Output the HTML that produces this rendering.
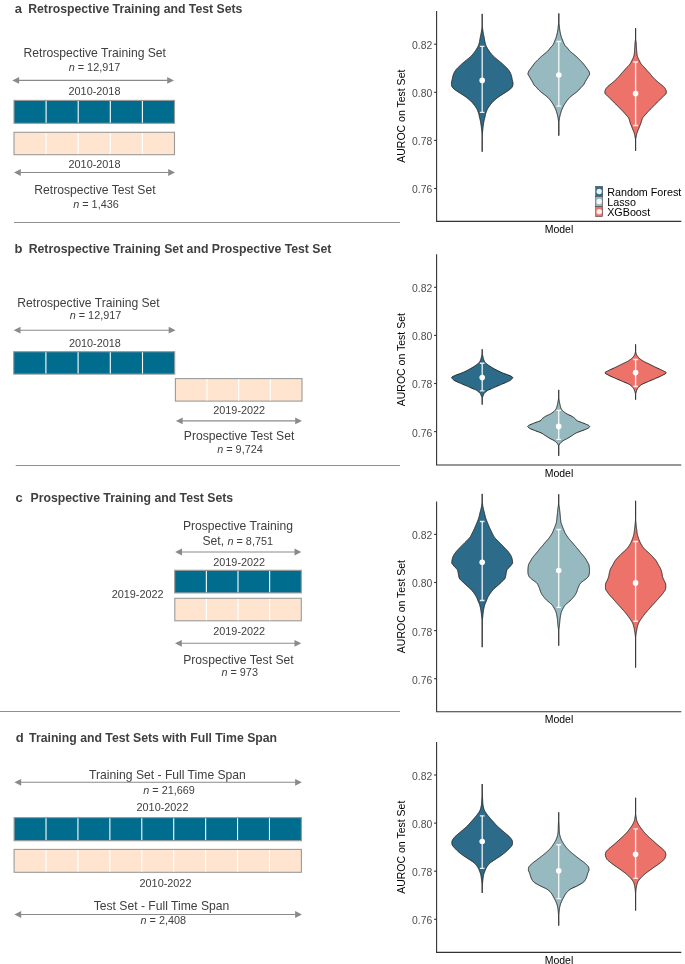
<!DOCTYPE html>
<html><head><meta charset="utf-8"><style>
html,body{margin:0;padding:0;background:#fff;}
body{width:685px;height:964px;overflow:hidden;}
svg{display:block;font-family:"Liberation Sans", sans-serif;will-change:transform;}
</style></head><body>
<svg width="685" height="964" viewBox="0 0 685 964">
<text x="14.70" y="12.60" font-size="13" text-anchor="start" font-weight="bold" fill="#404040" >a</text>
<text x="28.20" y="12.60" font-size="12.25" text-anchor="start" font-weight="bold" fill="#404040" >Retrospective Training and Test Sets</text>
<text x="94.80" y="56.80" font-size="12.15" text-anchor="middle" font-weight="normal" fill="#404040" >Retrospective Training Set</text>
<text x="94.50" y="71.00" font-size="10.85" text-anchor="middle" font-weight="normal" fill="#404040" ><tspan font-style="italic">n</tspan> = 12,917</text>
<line x1="18.60" y1="80.40" x2="167.70" y2="80.40" stroke="#8a8a8a" stroke-width="1.1"/>
<path d="M12.30,80.40 L19.10,77.00 L19.10,83.80 Z" fill="#8a8a8a"/>
<path d="M174.00,80.40 L167.20,77.00 L167.20,83.80 Z" fill="#8a8a8a"/>
<text x="94.50" y="94.90" font-size="10.85" text-anchor="middle" font-weight="normal" fill="#404040" >2010-2018</text>
<rect x="14.00" y="100.40" width="160.50" height="22.90" fill="#006d8f" stroke="#9a9a9a" stroke-width="1.1"/>
<line x1="46.10" y1="101.00" x2="46.10" y2="122.70" stroke="#ffffff" stroke-width="1.1"/>
<line x1="78.20" y1="101.00" x2="78.20" y2="122.70" stroke="#ffffff" stroke-width="1.1"/>
<line x1="110.30" y1="101.00" x2="110.30" y2="122.70" stroke="#ffffff" stroke-width="1.1"/>
<line x1="142.40" y1="101.00" x2="142.40" y2="122.70" stroke="#ffffff" stroke-width="1.1"/>
<rect x="14.00" y="132.30" width="160.50" height="22.40" fill="#ffe5cf" stroke="#9a9a9a" stroke-width="1.1"/>
<line x1="46.10" y1="132.90" x2="46.10" y2="154.10" stroke="#ffffff" stroke-width="1.1"/>
<line x1="78.20" y1="132.90" x2="78.20" y2="154.10" stroke="#ffffff" stroke-width="1.1"/>
<line x1="110.30" y1="132.90" x2="110.30" y2="154.10" stroke="#ffffff" stroke-width="1.1"/>
<line x1="142.40" y1="132.90" x2="142.40" y2="154.10" stroke="#ffffff" stroke-width="1.1"/>
<text x="94.50" y="168.10" font-size="10.85" text-anchor="middle" font-weight="normal" fill="#404040" >2010-2018</text>
<line x1="20.30" y1="172.50" x2="168.70" y2="172.50" stroke="#8a8a8a" stroke-width="1.1"/>
<path d="M14.00,172.50 L20.80,169.10 L20.80,175.90 Z" fill="#8a8a8a"/>
<path d="M175.00,172.50 L168.20,169.10 L168.20,175.90 Z" fill="#8a8a8a"/>
<text x="94.90" y="194.40" font-size="12.15" text-anchor="middle" font-weight="normal" fill="#404040" >Retrospective Test Set</text>
<text x="96.00" y="207.50" font-size="10.85" text-anchor="middle" font-weight="normal" fill="#404040" ><tspan font-style="italic">n</tspan> = 1,436</text>
<line x1="14.00" y1="222.50" x2="400.00" y2="222.50" stroke="#909090" stroke-width="1"/>
<text x="14.60" y="253.40" font-size="13" text-anchor="start" font-weight="bold" fill="#404040" >b</text>
<text x="28.70" y="253.40" font-size="12.25" text-anchor="start" font-weight="bold" fill="#404040" >Retrospective Training Set and Prospective Test Set</text>
<text x="88.55" y="307.10" font-size="12.15" text-anchor="middle" font-weight="normal" fill="#404040" >Retrospective Training Set</text>
<text x="95.50" y="318.90" font-size="10.85" text-anchor="middle" font-weight="normal" fill="#404040" ><tspan font-style="italic">n</tspan> = 12,917</text>
<line x1="20.00" y1="330.20" x2="169.20" y2="330.20" stroke="#8a8a8a" stroke-width="1.1"/>
<path d="M13.70,330.20 L20.50,326.80 L20.50,333.60 Z" fill="#8a8a8a"/>
<path d="M175.50,330.20 L168.70,326.80 L168.70,333.60 Z" fill="#8a8a8a"/>
<text x="94.85" y="347.00" font-size="10.85" text-anchor="middle" font-weight="normal" fill="#404040" >2010-2018</text>
<rect x="13.70" y="351.70" width="161.00" height="22.40" fill="#006d8f" stroke="#9a9a9a" stroke-width="1.1"/>
<line x1="45.90" y1="352.30" x2="45.90" y2="373.50" stroke="#ffffff" stroke-width="1.1"/>
<line x1="78.10" y1="352.30" x2="78.10" y2="373.50" stroke="#ffffff" stroke-width="1.1"/>
<line x1="110.30" y1="352.30" x2="110.30" y2="373.50" stroke="#ffffff" stroke-width="1.1"/>
<line x1="142.50" y1="352.30" x2="142.50" y2="373.50" stroke="#ffffff" stroke-width="1.1"/>
<rect x="175.40" y="378.60" width="126.60" height="22.50" fill="#ffe5cf" stroke="#9a9a9a" stroke-width="1.1"/>
<line x1="207.05" y1="379.20" x2="207.05" y2="400.50" stroke="#ffffff" stroke-width="1.1"/>
<line x1="238.70" y1="379.20" x2="238.70" y2="400.50" stroke="#ffffff" stroke-width="1.1"/>
<line x1="270.35" y1="379.20" x2="270.35" y2="400.50" stroke="#ffffff" stroke-width="1.1"/>
<text x="239.20" y="413.90" font-size="10.85" text-anchor="middle" font-weight="normal" fill="#404040" >2019-2022</text>
<line x1="182.20" y1="420.90" x2="295.70" y2="420.90" stroke="#8a8a8a" stroke-width="1.1"/>
<path d="M175.90,420.90 L182.70,417.50 L182.70,424.30 Z" fill="#8a8a8a"/>
<path d="M302.00,420.90 L295.20,417.50 L295.20,424.30 Z" fill="#8a8a8a"/>
<text x="239.10" y="439.60" font-size="12.15" text-anchor="middle" font-weight="normal" fill="#404040" >Prospective Test Set</text>
<text x="240.00" y="452.90" font-size="10.85" text-anchor="middle" font-weight="normal" fill="#404040" ><tspan font-style="italic">n</tspan> = 9,724</text>
<line x1="15.70" y1="465.50" x2="400.00" y2="465.50" stroke="#909090" stroke-width="1"/>
<text x="15.40" y="502.20" font-size="13" text-anchor="start" font-weight="bold" fill="#404040" >c</text>
<text x="30.50" y="502.20" font-size="12.25" text-anchor="start" font-weight="bold" fill="#404040" >Prospective Training and Test Sets</text>
<text x="237.90" y="530.30" font-size="12.15" text-anchor="middle" font-weight="normal" fill="#404040" >Prospective Training</text>
<text x="237.75" y="545.00" font-size="12.15" text-anchor="middle" font-weight="normal" fill="#404040" >Set, <tspan font-style="italic" font-size="10.85">n</tspan><tspan font-size="10.85"> = 8,751</tspan></text>
<line x1="181.50" y1="552.00" x2="295.00" y2="552.00" stroke="#8a8a8a" stroke-width="1.1"/>
<path d="M175.20,552.00 L182.00,548.60 L182.00,555.40 Z" fill="#8a8a8a"/>
<path d="M301.30,552.00 L294.50,548.60 L294.50,555.40 Z" fill="#8a8a8a"/>
<text x="239.20" y="566.00" font-size="10.85" text-anchor="middle" font-weight="normal" fill="#404040" >2019-2022</text>
<rect x="174.70" y="570.30" width="126.60" height="22.60" fill="#006d8f" stroke="#9a9a9a" stroke-width="1.1"/>
<line x1="206.35" y1="570.90" x2="206.35" y2="592.30" stroke="#ffffff" stroke-width="1.1"/>
<line x1="238.00" y1="570.90" x2="238.00" y2="592.30" stroke="#ffffff" stroke-width="1.1"/>
<line x1="269.65" y1="570.90" x2="269.65" y2="592.30" stroke="#ffffff" stroke-width="1.1"/>
<text x="137.60" y="598.30" font-size="10.85" text-anchor="middle" font-weight="normal" fill="#404040" >2019-2022</text>
<rect x="174.80" y="598.30" width="126.50" height="22.50" fill="#ffe5cf" stroke="#9a9a9a" stroke-width="1.1"/>
<line x1="206.43" y1="598.90" x2="206.43" y2="620.20" stroke="#ffffff" stroke-width="1.1"/>
<line x1="238.05" y1="598.90" x2="238.05" y2="620.20" stroke="#ffffff" stroke-width="1.1"/>
<line x1="269.68" y1="598.90" x2="269.68" y2="620.20" stroke="#ffffff" stroke-width="1.1"/>
<text x="239.20" y="634.60" font-size="10.85" text-anchor="middle" font-weight="normal" fill="#404040" >2019-2022</text>
<line x1="181.30" y1="643.30" x2="295.00" y2="643.30" stroke="#8a8a8a" stroke-width="1.1"/>
<path d="M175.00,643.30 L181.80,639.90 L181.80,646.70 Z" fill="#8a8a8a"/>
<path d="M301.30,643.30 L294.50,639.90 L294.50,646.70 Z" fill="#8a8a8a"/>
<text x="238.40" y="663.50" font-size="12.15" text-anchor="middle" font-weight="normal" fill="#404040" >Prospective Test Set</text>
<text x="239.70" y="676.30" font-size="10.85" text-anchor="middle" font-weight="normal" fill="#404040" ><tspan font-style="italic">n</tspan> = 973</text>
<line x1="0.00" y1="711.50" x2="400.00" y2="711.50" stroke="#909090" stroke-width="1"/>
<text x="15.70" y="741.90" font-size="13" text-anchor="start" font-weight="bold" fill="#404040" >d</text>
<text x="29.10" y="741.90" font-size="12.25" text-anchor="start" font-weight="bold" fill="#404040" >Training and Test Sets with Full Time Span</text>
<text x="167.50" y="779.40" font-size="12.15" text-anchor="middle" font-weight="normal" fill="#404040" >Training Set - Full Time Span</text>
<line x1="20.70" y1="782.30" x2="295.60" y2="782.30" stroke="#8a8a8a" stroke-width="1.1"/>
<path d="M14.40,782.30 L21.20,778.90 L21.20,785.70 Z" fill="#8a8a8a"/>
<path d="M301.90,782.30 L295.10,778.90 L295.10,785.70 Z" fill="#8a8a8a"/>
<text x="169.10" y="794.00" font-size="10.85" text-anchor="middle" font-weight="normal" fill="#404040" ><tspan font-style="italic">n</tspan> = 21,669</text>
<text x="162.50" y="810.90" font-size="10.85" text-anchor="middle" font-weight="normal" fill="#404040" >2010-2022</text>
<rect x="14.10" y="817.60" width="287.30" height="23.10" fill="#006d8f" stroke="#9a9a9a" stroke-width="1.1"/>
<line x1="46.02" y1="818.20" x2="46.02" y2="840.10" stroke="#ffffff" stroke-width="1.1"/>
<line x1="77.94" y1="818.20" x2="77.94" y2="840.10" stroke="#ffffff" stroke-width="1.1"/>
<line x1="109.87" y1="818.20" x2="109.87" y2="840.10" stroke="#ffffff" stroke-width="1.1"/>
<line x1="141.79" y1="818.20" x2="141.79" y2="840.10" stroke="#ffffff" stroke-width="1.1"/>
<line x1="173.71" y1="818.20" x2="173.71" y2="840.10" stroke="#ffffff" stroke-width="1.1"/>
<line x1="205.63" y1="818.20" x2="205.63" y2="840.10" stroke="#ffffff" stroke-width="1.1"/>
<line x1="237.56" y1="818.20" x2="237.56" y2="840.10" stroke="#ffffff" stroke-width="1.1"/>
<line x1="269.48" y1="818.20" x2="269.48" y2="840.10" stroke="#ffffff" stroke-width="1.1"/>
<rect x="14.10" y="849.40" width="287.30" height="22.90" fill="#ffe5cf" stroke="#9a9a9a" stroke-width="1.1"/>
<line x1="46.02" y1="850.00" x2="46.02" y2="871.70" stroke="#ffffff" stroke-width="1.1"/>
<line x1="77.94" y1="850.00" x2="77.94" y2="871.70" stroke="#ffffff" stroke-width="1.1"/>
<line x1="109.87" y1="850.00" x2="109.87" y2="871.70" stroke="#ffffff" stroke-width="1.1"/>
<line x1="141.79" y1="850.00" x2="141.79" y2="871.70" stroke="#ffffff" stroke-width="1.1"/>
<line x1="173.71" y1="850.00" x2="173.71" y2="871.70" stroke="#ffffff" stroke-width="1.1"/>
<line x1="205.63" y1="850.00" x2="205.63" y2="871.70" stroke="#ffffff" stroke-width="1.1"/>
<line x1="237.56" y1="850.00" x2="237.56" y2="871.70" stroke="#ffffff" stroke-width="1.1"/>
<line x1="269.48" y1="850.00" x2="269.48" y2="871.70" stroke="#ffffff" stroke-width="1.1"/>
<text x="165.50" y="887.20" font-size="10.85" text-anchor="middle" font-weight="normal" fill="#404040" >2010-2022</text>
<text x="161.50" y="910.00" font-size="12.15" text-anchor="middle" font-weight="normal" fill="#404040" >Test Set - Full Time Span</text>
<line x1="20.70" y1="914.50" x2="295.60" y2="914.50" stroke="#8a8a8a" stroke-width="1.1"/>
<path d="M14.40,914.50 L21.20,911.10 L21.20,917.90 Z" fill="#8a8a8a"/>
<path d="M301.90,914.50 L295.10,911.10 L295.10,917.90 Z" fill="#8a8a8a"/>
<text x="163.30" y="924.40" font-size="10.85" text-anchor="middle" font-weight="normal" fill="#404040" ><tspan font-style="italic">n</tspan> = 2,408</text>
<path d="M482.20,13.90 L482.20,14.40 L482.20,14.90 L482.20,15.40 L482.20,15.90 L482.20,16.40 L482.20,16.90 L482.20,17.40 L482.21,17.90 L482.21,18.40 L482.21,18.90 L482.21,19.40 L482.21,19.90 L482.21,20.40 L482.22,20.90 L482.22,21.40 L482.22,21.90 L482.23,22.40 L482.23,22.90 L482.23,23.40 L482.24,23.90 L482.24,24.40 L482.24,24.90 L482.25,25.40 L482.28,25.90 L482.32,26.40 L482.37,26.90 L482.43,27.40 L482.50,27.90 L482.57,28.40 L482.65,28.90 L482.72,29.40 L482.79,29.90 L482.85,30.40 L482.92,30.90 L482.99,31.40 L483.07,31.90 L483.15,32.40 L483.23,32.90 L483.32,33.40 L483.41,33.90 L483.52,34.40 L483.63,34.90 L483.73,35.40 L483.84,35.90 L483.94,36.40 L484.03,36.90 L484.13,37.40 L484.22,37.90 L484.31,38.40 L484.40,38.90 L484.49,39.40 L484.58,39.90 L484.67,40.40 L484.76,40.90 L484.85,41.40 L484.95,41.90 L485.05,42.40 L485.17,42.90 L485.30,43.40 L485.44,43.90 L485.59,44.40 L485.76,44.90 L485.94,45.40 L486.15,45.90 L486.39,46.40 L486.65,46.90 L486.92,47.40 L487.20,47.90 L487.48,48.40 L487.78,48.90 L488.09,49.40 L488.41,49.90 L488.73,50.40 L489.07,50.90 L489.42,51.40 L489.79,51.90 L490.16,52.40 L490.54,52.90 L490.94,53.40 L491.34,53.90 L491.75,54.40 L492.17,54.90 L492.62,55.40 L493.10,55.90 L493.61,56.40 L494.16,56.90 L494.73,57.40 L495.31,57.90 L495.90,58.40 L496.50,58.90 L497.11,59.40 L497.74,59.90 L498.36,60.40 L498.98,60.90 L499.59,61.40 L500.19,61.90 L500.80,62.40 L501.39,62.90 L501.97,63.40 L502.54,63.90 L503.09,64.40 L503.63,64.90 L504.16,65.40 L504.68,65.90 L505.20,66.40 L505.73,66.90 L506.25,67.40 L506.77,67.90 L507.25,68.40 L507.70,68.90 L508.11,69.40 L508.51,69.90 L508.88,70.40 L509.23,70.90 L509.54,71.40 L509.83,71.90 L510.09,72.40 L510.34,72.90 L510.57,73.40 L510.78,73.90 L510.97,74.40 L511.15,74.90 L511.31,75.40 L511.46,75.90 L511.60,76.40 L511.72,76.90 L511.83,77.40 L511.92,77.90 L512.01,78.40 L512.10,78.90 L512.20,79.40 L512.32,79.90 L512.46,80.40 L512.58,80.90 L512.69,81.40 L512.80,81.90 L512.91,82.40 L512.98,82.90 L513.00,83.40 L512.98,83.90 L512.94,84.40 L512.87,84.90 L512.79,85.40 L512.70,85.90 L512.53,86.40 L512.25,86.90 L511.87,87.40 L511.44,87.90 L510.99,88.40 L510.50,88.90 L509.90,89.40 L509.23,89.90 L508.51,90.40 L507.79,90.90 L507.07,91.40 L506.31,91.90 L505.52,92.40 L504.72,92.90 L503.93,93.40 L503.14,93.90 L502.36,94.40 L501.57,94.90 L500.79,95.40 L500.03,95.90 L499.30,96.40 L498.60,96.90 L497.93,97.40 L497.27,97.90 L496.64,98.40 L496.02,98.90 L495.42,99.40 L494.83,99.90 L494.26,100.40 L493.71,100.90 L493.20,101.40 L492.72,101.90 L492.26,102.40 L491.83,102.90 L491.42,103.40 L491.02,103.90 L490.62,104.40 L490.24,104.90 L489.86,105.40 L489.49,105.90 L489.14,106.40 L488.80,106.90 L488.46,107.40 L488.13,107.90 L487.81,108.40 L487.51,108.90 L487.25,109.40 L487.02,109.90 L486.82,110.40 L486.64,110.90 L486.47,111.40 L486.30,111.90 L486.13,112.40 L485.96,112.90 L485.80,113.40 L485.64,113.90 L485.50,114.40 L485.38,114.90 L485.27,115.40 L485.18,115.90 L485.09,116.40 L485.00,116.90 L484.90,117.40 L484.78,117.90 L484.63,118.40 L484.49,118.90 L484.35,119.40 L484.22,119.90 L484.12,120.40 L484.02,120.90 L483.93,121.40 L483.85,121.90 L483.77,122.40 L483.68,122.90 L483.60,123.40 L483.52,123.90 L483.44,124.40 L483.36,124.90 L483.28,125.40 L483.21,125.90 L483.14,126.40 L483.08,126.90 L483.02,127.40 L482.96,127.90 L482.91,128.40 L482.86,128.90 L482.81,129.40 L482.77,129.90 L482.72,130.40 L482.67,130.90 L482.62,131.40 L482.57,131.90 L482.51,132.40 L482.46,132.90 L482.40,133.40 L482.36,133.90 L482.32,134.40 L482.28,134.90 L482.26,135.40 L482.25,135.90 L482.24,136.40 L482.24,136.90 L482.24,137.40 L482.23,137.90 L482.23,138.40 L482.23,138.90 L482.23,139.40 L482.22,139.90 L482.22,140.40 L482.22,140.90 L482.22,141.40 L482.22,141.90 L482.21,142.40 L482.21,142.90 L482.21,143.40 L482.21,143.90 L482.21,144.40 L482.21,144.90 L482.21,145.40 L482.21,145.90 L482.20,146.40 L482.20,146.90 L482.20,147.40 L482.20,147.90 L482.20,148.40 L482.20,148.90 L482.20,149.40 L482.20,149.90 L482.20,150.40 L482.20,150.90 L482.20,151.40 L482.20,151.70 L482.20,151.40 L482.20,150.90 L482.20,150.40 L482.20,149.90 L482.20,149.40 L482.20,148.90 L482.20,148.40 L482.20,147.90 L482.20,147.40 L482.20,146.90 L482.20,146.40 L482.19,145.90 L482.19,145.40 L482.19,144.90 L482.19,144.40 L482.19,143.90 L482.19,143.40 L482.19,142.90 L482.19,142.40 L482.18,141.90 L482.18,141.40 L482.18,140.90 L482.18,140.40 L482.18,139.90 L482.17,139.40 L482.17,138.90 L482.17,138.40 L482.17,137.90 L482.16,137.40 L482.16,136.90 L482.16,136.40 L482.15,135.90 L482.14,135.40 L482.12,134.90 L482.08,134.40 L482.04,133.90 L482.00,133.40 L481.94,132.90 L481.89,132.40 L481.83,131.90 L481.78,131.40 L481.73,130.90 L481.68,130.40 L481.63,129.90 L481.59,129.40 L481.54,128.90 L481.49,128.40 L481.44,127.90 L481.38,127.40 L481.32,126.90 L481.26,126.40 L481.19,125.90 L481.12,125.40 L481.04,124.90 L480.96,124.40 L480.88,123.90 L480.80,123.40 L480.72,122.90 L480.63,122.40 L480.55,121.90 L480.47,121.40 L480.38,120.90 L480.28,120.40 L480.18,119.90 L480.05,119.40 L479.91,118.90 L479.77,118.40 L479.62,117.90 L479.50,117.40 L479.40,116.90 L479.31,116.40 L479.22,115.90 L479.13,115.40 L479.02,114.90 L478.90,114.40 L478.76,113.90 L478.60,113.40 L478.44,112.90 L478.27,112.40 L478.10,111.90 L477.93,111.40 L477.76,110.90 L477.58,110.40 L477.38,109.90 L477.15,109.40 L476.89,108.90 L476.59,108.40 L476.27,107.90 L475.94,107.40 L475.60,106.90 L475.26,106.40 L474.91,105.90 L474.54,105.40 L474.16,104.90 L473.78,104.40 L473.38,103.90 L472.98,103.40 L472.57,102.90 L472.14,102.40 L471.68,101.90 L471.20,101.40 L470.69,100.90 L470.14,100.40 L469.57,99.90 L468.98,99.40 L468.38,98.90 L467.76,98.40 L467.13,97.90 L466.47,97.40 L465.80,96.90 L465.10,96.40 L464.37,95.90 L463.61,95.40 L462.83,94.90 L462.04,94.40 L461.26,93.90 L460.47,93.40 L459.68,92.90 L458.88,92.40 L458.09,91.90 L457.33,91.40 L456.61,90.90 L455.89,90.40 L455.17,89.90 L454.50,89.40 L453.90,88.90 L453.41,88.40 L452.96,87.90 L452.53,87.40 L452.15,86.90 L451.87,86.40 L451.70,85.90 L451.61,85.40 L451.53,84.90 L451.46,84.40 L451.42,83.90 L451.40,83.40 L451.42,82.90 L451.49,82.40 L451.60,81.90 L451.71,81.40 L451.82,80.90 L451.94,80.40 L452.08,79.90 L452.20,79.40 L452.30,78.90 L452.39,78.40 L452.48,77.90 L452.57,77.40 L452.68,76.90 L452.80,76.40 L452.94,75.90 L453.09,75.40 L453.25,74.90 L453.43,74.40 L453.62,73.90 L453.83,73.40 L454.06,72.90 L454.31,72.40 L454.57,71.90 L454.86,71.40 L455.17,70.90 L455.52,70.40 L455.89,69.90 L456.29,69.40 L456.70,68.90 L457.15,68.40 L457.63,67.90 L458.15,67.40 L458.67,66.90 L459.20,66.40 L459.72,65.90 L460.24,65.40 L460.77,64.90 L461.31,64.40 L461.86,63.90 L462.43,63.40 L463.01,62.90 L463.60,62.40 L464.21,61.90 L464.81,61.40 L465.42,60.90 L466.04,60.40 L466.66,59.90 L467.29,59.40 L467.90,58.90 L468.50,58.40 L469.09,57.90 L469.67,57.40 L470.24,56.90 L470.79,56.40 L471.30,55.90 L471.78,55.40 L472.23,54.90 L472.65,54.40 L473.06,53.90 L473.46,53.40 L473.86,52.90 L474.24,52.40 L474.61,51.90 L474.98,51.40 L475.33,50.90 L475.67,50.40 L475.99,49.90 L476.31,49.40 L476.62,48.90 L476.92,48.40 L477.20,47.90 L477.48,47.40 L477.75,46.90 L478.01,46.40 L478.25,45.90 L478.46,45.40 L478.64,44.90 L478.81,44.40 L478.96,43.90 L479.10,43.40 L479.23,42.90 L479.35,42.40 L479.45,41.90 L479.55,41.40 L479.64,40.90 L479.73,40.40 L479.82,39.90 L479.91,39.40 L480.00,38.90 L480.09,38.40 L480.18,37.90 L480.27,37.40 L480.37,36.90 L480.46,36.40 L480.56,35.90 L480.67,35.40 L480.77,34.90 L480.88,34.40 L480.99,33.90 L481.08,33.40 L481.17,32.90 L481.25,32.40 L481.33,31.90 L481.41,31.40 L481.48,30.90 L481.55,30.40 L481.61,29.90 L481.68,29.40 L481.75,28.90 L481.83,28.40 L481.90,27.90 L481.97,27.40 L482.03,26.90 L482.08,26.40 L482.12,25.90 L482.15,25.40 L482.16,24.90 L482.16,24.40 L482.16,23.90 L482.17,23.40 L482.17,22.90 L482.17,22.40 L482.18,21.90 L482.18,21.40 L482.18,20.90 L482.19,20.40 L482.19,19.90 L482.19,19.40 L482.19,18.90 L482.19,18.40 L482.19,17.90 L482.20,17.40 L482.20,16.90 L482.20,16.40 L482.20,15.90 L482.20,15.40 L482.20,14.90 L482.20,14.40 L482.20,13.90 Z" fill="#2c6c8a" stroke="#262626" stroke-width="1.0" stroke-linejoin="round"/>
<path d="M558.80,13.50 L558.80,14.00 L558.80,14.50 L558.80,15.00 L558.80,15.50 L558.80,16.00 L558.80,16.50 L558.81,17.00 L558.81,17.50 L558.81,18.00 L558.81,18.50 L558.82,19.00 L558.82,19.50 L558.83,20.00 L558.83,20.50 L558.83,21.00 L558.84,21.50 L558.84,22.00 L558.87,22.50 L558.91,23.00 L558.98,23.50 L559.06,24.00 L559.14,24.50 L559.22,25.00 L559.29,25.50 L559.34,26.00 L559.39,26.50 L559.44,27.00 L559.49,27.50 L559.53,28.00 L559.58,28.50 L559.64,29.00 L559.70,29.50 L559.77,30.00 L559.85,30.50 L559.94,31.00 L560.03,31.50 L560.13,32.00 L560.23,32.50 L560.34,33.00 L560.44,33.50 L560.55,34.00 L560.67,34.50 L560.79,35.00 L560.92,35.50 L561.05,36.00 L561.19,36.50 L561.34,37.00 L561.50,37.50 L561.68,38.00 L561.88,38.50 L562.09,39.00 L562.30,39.50 L562.50,40.00 L562.69,40.50 L562.87,41.00 L563.06,41.50 L563.25,42.00 L563.46,42.50 L563.68,43.00 L563.91,43.50 L564.15,44.00 L564.41,44.50 L564.71,45.00 L565.04,45.50 L565.46,46.00 L565.94,46.50 L566.45,47.00 L566.95,47.50 L567.40,48.00 L567.79,48.50 L568.15,49.00 L568.51,49.50 L568.88,50.00 L569.30,50.50 L569.79,51.00 L570.33,51.50 L570.91,52.00 L571.51,52.50 L572.10,53.00 L572.70,53.50 L573.31,54.00 L573.93,54.50 L574.55,55.00 L575.15,55.50 L575.73,56.00 L576.28,56.50 L576.82,57.00 L577.36,57.50 L577.88,58.00 L578.40,58.50 L578.91,59.00 L579.42,59.50 L579.92,60.00 L580.42,60.50 L580.90,61.00 L581.38,61.50 L581.86,62.00 L582.32,62.50 L582.77,63.00 L583.20,63.50 L583.60,64.00 L583.98,64.50 L584.35,65.00 L584.71,65.50 L585.08,66.00 L585.45,66.50 L585.82,67.00 L586.20,67.50 L586.57,68.00 L586.94,68.50 L587.30,69.00 L587.68,69.50 L588.07,70.00 L588.44,70.50 L588.77,71.00 L589.00,71.50 L589.18,72.00 L589.34,72.50 L589.47,73.00 L589.57,73.50 L589.60,74.00 L589.51,74.50 L589.27,75.00 L588.94,75.50 L588.58,76.00 L588.26,76.50 L587.98,77.00 L587.71,77.50 L587.44,78.00 L587.16,78.50 L586.87,79.00 L586.58,79.50 L586.27,80.00 L585.95,80.50 L585.64,81.00 L585.33,81.50 L585.05,82.00 L584.80,82.50 L584.57,83.00 L584.34,83.50 L584.09,84.00 L583.80,84.50 L583.43,85.00 L582.98,85.50 L582.48,86.00 L581.98,86.50 L581.49,87.00 L581.04,87.50 L580.61,88.00 L580.19,88.50 L579.75,89.00 L579.29,89.50 L578.80,90.00 L578.28,90.50 L577.73,91.00 L577.16,91.50 L576.58,92.00 L575.98,92.50 L575.35,93.00 L574.68,93.50 L574.01,94.00 L573.34,94.50 L572.70,95.00 L572.07,95.50 L571.45,96.00 L570.83,96.50 L570.25,97.00 L569.70,97.50 L569.20,98.00 L568.73,98.50 L568.27,99.00 L567.85,99.50 L567.44,100.00 L567.05,100.50 L566.68,101.00 L566.33,101.50 L565.99,102.00 L565.66,102.50 L565.33,103.00 L565.01,103.50 L564.69,104.00 L564.38,104.50 L564.08,105.00 L563.80,105.50 L563.54,106.00 L563.29,106.50 L563.05,107.00 L562.82,107.50 L562.59,108.00 L562.36,108.50 L562.14,109.00 L561.92,109.50 L561.71,110.00 L561.51,110.50 L561.33,111.00 L561.16,111.50 L561.01,112.00 L560.86,112.50 L560.71,113.00 L560.57,113.50 L560.43,114.00 L560.28,114.50 L560.14,115.00 L560.01,115.50 L559.90,116.00 L559.80,116.50 L559.70,117.00 L559.61,117.50 L559.53,118.00 L559.46,118.50 L559.39,119.00 L559.32,119.50 L559.24,120.00 L559.17,120.50 L559.10,121.00 L559.03,121.50 L558.98,122.00 L558.92,122.50 L558.88,123.00 L558.86,123.50 L558.84,124.00 L558.84,124.50 L558.84,125.00 L558.83,125.50 L558.83,126.00 L558.83,126.50 L558.82,127.00 L558.82,127.50 L558.82,128.00 L558.82,128.50 L558.81,129.00 L558.81,129.50 L558.81,130.00 L558.81,130.50 L558.81,131.00 L558.80,131.50 L558.80,132.00 L558.80,132.50 L558.80,133.00 L558.80,133.50 L558.80,134.00 L558.80,134.50 L558.80,135.00 L558.80,135.50 L558.80,135.60 L558.80,135.50 L558.80,135.00 L558.80,134.50 L558.80,134.00 L558.80,133.50 L558.80,133.00 L558.80,132.50 L558.80,132.00 L558.80,131.50 L558.79,131.00 L558.79,130.50 L558.79,130.00 L558.79,129.50 L558.79,129.00 L558.78,128.50 L558.78,128.00 L558.78,127.50 L558.78,127.00 L558.77,126.50 L558.77,126.00 L558.77,125.50 L558.76,125.00 L558.76,124.50 L558.75,124.00 L558.74,123.50 L558.72,123.00 L558.68,122.50 L558.62,122.00 L558.57,121.50 L558.50,121.00 L558.43,120.50 L558.36,120.00 L558.28,119.50 L558.21,119.00 L558.14,118.50 L558.07,118.00 L557.99,117.50 L557.90,117.00 L557.80,116.50 L557.70,116.00 L557.59,115.50 L557.46,115.00 L557.32,114.50 L557.17,114.00 L557.03,113.50 L556.89,113.00 L556.74,112.50 L556.59,112.00 L556.44,111.50 L556.27,111.00 L556.09,110.50 L555.89,110.00 L555.68,109.50 L555.46,109.00 L555.24,108.50 L555.01,108.00 L554.78,107.50 L554.55,107.00 L554.31,106.50 L554.06,106.00 L553.80,105.50 L553.52,105.00 L553.22,104.50 L552.91,104.00 L552.59,103.50 L552.27,103.00 L551.94,102.50 L551.61,102.00 L551.27,101.50 L550.92,101.00 L550.55,100.50 L550.16,100.00 L549.75,99.50 L549.33,99.00 L548.87,98.50 L548.40,98.00 L547.90,97.50 L547.35,97.00 L546.77,96.50 L546.15,96.00 L545.53,95.50 L544.90,95.00 L544.26,94.50 L543.59,94.00 L542.92,93.50 L542.25,93.00 L541.62,92.50 L541.02,92.00 L540.44,91.50 L539.87,91.00 L539.32,90.50 L538.80,90.00 L538.31,89.50 L537.85,89.00 L537.41,88.50 L536.99,88.00 L536.56,87.50 L536.11,87.00 L535.62,86.50 L535.12,86.00 L534.62,85.50 L534.17,85.00 L533.80,84.50 L533.51,84.00 L533.26,83.50 L533.03,83.00 L532.80,82.50 L532.55,82.00 L532.27,81.50 L531.96,81.00 L531.65,80.50 L531.33,80.00 L531.02,79.50 L530.73,79.00 L530.44,78.50 L530.16,78.00 L529.89,77.50 L529.62,77.00 L529.34,76.50 L529.02,76.00 L528.66,75.50 L528.33,75.00 L528.09,74.50 L528.00,74.00 L528.03,73.50 L528.13,73.00 L528.26,72.50 L528.42,72.00 L528.60,71.50 L528.83,71.00 L529.16,70.50 L529.53,70.00 L529.92,69.50 L530.30,69.00 L530.66,68.50 L531.03,68.00 L531.40,67.50 L531.78,67.00 L532.15,66.50 L532.52,66.00 L532.89,65.50 L533.25,65.00 L533.62,64.50 L534.00,64.00 L534.40,63.50 L534.83,63.00 L535.28,62.50 L535.74,62.00 L536.22,61.50 L536.70,61.00 L537.18,60.50 L537.68,60.00 L538.18,59.50 L538.69,59.00 L539.20,58.50 L539.72,58.00 L540.24,57.50 L540.78,57.00 L541.32,56.50 L541.87,56.00 L542.45,55.50 L543.05,55.00 L543.67,54.50 L544.29,54.00 L544.90,53.50 L545.50,53.00 L546.09,52.50 L546.69,52.00 L547.27,51.50 L547.81,51.00 L548.30,50.50 L548.72,50.00 L549.09,49.50 L549.45,49.00 L549.81,48.50 L550.20,48.00 L550.65,47.50 L551.15,47.00 L551.66,46.50 L552.14,46.00 L552.56,45.50 L552.89,45.00 L553.19,44.50 L553.45,44.00 L553.69,43.50 L553.92,43.00 L554.14,42.50 L554.35,42.00 L554.54,41.50 L554.73,41.00 L554.91,40.50 L555.10,40.00 L555.30,39.50 L555.51,39.00 L555.72,38.50 L555.92,38.00 L556.10,37.50 L556.26,37.00 L556.41,36.50 L556.55,36.00 L556.68,35.50 L556.81,35.00 L556.93,34.50 L557.05,34.00 L557.16,33.50 L557.26,33.00 L557.37,32.50 L557.47,32.00 L557.57,31.50 L557.66,31.00 L557.75,30.50 L557.83,30.00 L557.90,29.50 L557.96,29.00 L558.02,28.50 L558.07,28.00 L558.11,27.50 L558.16,27.00 L558.21,26.50 L558.26,26.00 L558.31,25.50 L558.38,25.00 L558.46,24.50 L558.54,24.00 L558.62,23.50 L558.69,23.00 L558.73,22.50 L558.75,22.00 L558.76,21.50 L558.77,21.00 L558.77,20.50 L558.77,20.00 L558.78,19.50 L558.78,19.00 L558.79,18.50 L558.79,18.00 L558.79,17.50 L558.79,17.00 L558.80,16.50 L558.80,16.00 L558.80,15.50 L558.80,15.00 L558.80,14.50 L558.80,14.00 L558.80,13.50 Z" fill="#97b9c0" stroke="#262626" stroke-width="1.0" stroke-linejoin="round"/>
<path d="M635.60,28.20 L635.60,28.70 L635.60,29.20 L635.60,29.70 L635.60,30.20 L635.60,30.70 L635.60,31.20 L635.61,31.70 L635.61,32.20 L635.61,32.70 L635.61,33.20 L635.61,33.70 L635.62,34.20 L635.62,34.70 L635.62,35.20 L635.63,35.70 L635.63,36.20 L635.63,36.70 L635.64,37.20 L635.64,37.70 L635.65,38.20 L635.67,38.70 L635.71,39.20 L635.76,39.70 L635.82,40.20 L635.88,40.70 L635.95,41.20 L636.02,41.70 L636.09,42.20 L636.14,42.70 L636.19,43.20 L636.23,43.70 L636.27,44.20 L636.30,44.70 L636.33,45.20 L636.36,45.70 L636.39,46.20 L636.42,46.70 L636.45,47.20 L636.48,47.70 L636.51,48.20 L636.54,48.70 L636.57,49.20 L636.60,49.70 L636.64,50.20 L636.67,50.70 L636.71,51.20 L636.75,51.70 L636.79,52.20 L636.83,52.70 L636.88,53.20 L636.93,53.70 L636.99,54.20 L637.05,54.70 L637.14,55.20 L637.25,55.70 L637.40,56.20 L637.57,56.70 L637.75,57.20 L637.94,57.70 L638.15,58.20 L638.39,58.70 L638.64,59.20 L638.90,59.70 L639.15,60.20 L639.39,60.70 L639.63,61.20 L639.86,61.70 L640.11,62.20 L640.38,62.70 L640.68,63.20 L641.01,63.70 L641.37,64.20 L641.75,64.70 L642.15,65.20 L642.57,65.70 L643.05,66.20 L643.57,66.70 L644.10,67.20 L644.61,67.70 L645.09,68.20 L645.53,68.70 L645.95,69.20 L646.37,69.70 L646.78,70.20 L647.21,70.70 L647.66,71.20 L648.13,71.70 L648.60,72.20 L649.07,72.70 L649.53,73.20 L649.95,73.70 L650.36,74.20 L650.75,74.70 L651.14,75.20 L651.55,75.70 L651.97,76.20 L652.41,76.70 L652.87,77.20 L653.33,77.70 L653.81,78.20 L654.30,78.70 L654.81,79.20 L655.33,79.70 L655.88,80.20 L656.43,80.70 L656.99,81.20 L657.56,81.70 L658.15,82.20 L658.74,82.70 L659.35,83.20 L659.96,83.70 L660.57,84.20 L661.22,84.70 L661.88,85.20 L662.52,85.70 L663.10,86.20 L663.59,86.70 L664.06,87.20 L664.50,87.70 L664.90,88.20 L665.24,88.70 L665.50,89.20 L665.72,89.70 L665.93,90.20 L666.11,90.70 L666.24,91.20 L666.30,91.70 L666.29,92.20 L666.27,92.70 L666.23,93.20 L666.11,93.70 L665.52,94.20 L664.90,94.70 L664.38,95.20 L663.88,95.70 L663.39,96.20 L662.89,96.70 L662.40,97.20 L661.90,97.70 L661.40,98.20 L660.90,98.70 L660.40,99.20 L659.90,99.70 L659.40,100.20 L658.90,100.70 L658.41,101.20 L657.91,101.70 L657.40,102.20 L656.90,102.70 L656.38,103.20 L655.85,103.70 L655.32,104.20 L654.81,104.70 L654.30,105.20 L653.81,105.70 L653.33,106.20 L652.86,106.70 L652.38,107.20 L651.90,107.70 L651.40,108.20 L650.90,108.70 L650.39,109.20 L649.89,109.70 L649.39,110.20 L648.91,110.70 L648.44,111.20 L647.98,111.70 L647.52,112.20 L647.07,112.70 L646.62,113.20 L646.17,113.70 L645.72,114.20 L645.27,114.70 L644.84,115.20 L644.42,115.70 L643.98,116.20 L643.54,116.70 L643.11,117.20 L642.74,117.70 L642.45,118.20 L642.24,118.70 L642.07,119.20 L641.93,119.70 L641.80,120.20 L641.66,120.70 L641.51,121.20 L641.36,121.70 L641.21,122.20 L641.06,122.70 L640.90,123.20 L640.73,123.70 L640.54,124.20 L640.33,124.70 L640.12,125.20 L639.90,125.70 L639.70,126.20 L639.51,126.70 L639.32,127.20 L639.13,127.70 L638.94,128.20 L638.74,128.70 L638.53,129.20 L638.32,129.70 L638.10,130.20 L637.88,130.70 L637.68,131.20 L637.49,131.70 L637.29,132.20 L637.11,132.70 L636.94,133.20 L636.78,133.70 L636.65,134.20 L636.54,134.70 L636.44,135.20 L636.34,135.70 L636.25,136.20 L636.16,136.70 L636.07,137.20 L635.96,137.70 L635.86,138.20 L635.78,138.70 L635.71,139.20 L635.66,139.70 L635.65,140.20 L635.64,140.70 L635.64,141.20 L635.64,141.70 L635.63,142.20 L635.63,142.70 L635.62,143.20 L635.62,143.70 L635.62,144.20 L635.61,144.70 L635.61,145.20 L635.61,145.70 L635.61,146.20 L635.61,146.70 L635.60,147.20 L635.60,147.70 L635.60,148.20 L635.60,148.70 L635.60,149.20 L635.60,149.70 L635.60,150.20 L635.60,150.70 L635.60,150.80 L635.60,150.70 L635.60,150.20 L635.60,149.70 L635.60,149.20 L635.60,148.70 L635.60,148.20 L635.60,147.70 L635.60,147.20 L635.59,146.70 L635.59,146.20 L635.59,145.70 L635.59,145.20 L635.59,144.70 L635.58,144.20 L635.58,143.70 L635.58,143.20 L635.57,142.70 L635.57,142.20 L635.56,141.70 L635.56,141.20 L635.56,140.70 L635.55,140.20 L635.54,139.70 L635.49,139.20 L635.42,138.70 L635.34,138.20 L635.24,137.70 L635.13,137.20 L635.04,136.70 L634.95,136.20 L634.86,135.70 L634.76,135.20 L634.66,134.70 L634.55,134.20 L634.42,133.70 L634.26,133.20 L634.09,132.70 L633.91,132.20 L633.71,131.70 L633.52,131.20 L633.32,130.70 L633.10,130.20 L632.88,129.70 L632.67,129.20 L632.46,128.70 L632.26,128.20 L632.07,127.70 L631.88,127.20 L631.69,126.70 L631.50,126.20 L631.30,125.70 L631.08,125.20 L630.87,124.70 L630.66,124.20 L630.47,123.70 L630.30,123.20 L630.14,122.70 L629.99,122.20 L629.84,121.70 L629.69,121.20 L629.54,120.70 L629.40,120.20 L629.27,119.70 L629.13,119.20 L628.96,118.70 L628.75,118.20 L628.46,117.70 L628.09,117.20 L627.66,116.70 L627.22,116.20 L626.78,115.70 L626.36,115.20 L625.93,114.70 L625.48,114.20 L625.03,113.70 L624.58,113.20 L624.13,112.70 L623.68,112.20 L623.22,111.70 L622.76,111.20 L622.29,110.70 L621.81,110.20 L621.31,109.70 L620.81,109.20 L620.30,108.70 L619.80,108.20 L619.30,107.70 L618.82,107.20 L618.34,106.70 L617.87,106.20 L617.39,105.70 L616.90,105.20 L616.39,104.70 L615.88,104.20 L615.35,103.70 L614.82,103.20 L614.30,102.70 L613.80,102.20 L613.29,101.70 L612.79,101.20 L612.30,100.70 L611.80,100.20 L611.30,99.70 L610.80,99.20 L610.30,98.70 L609.80,98.20 L609.30,97.70 L608.80,97.20 L608.31,96.70 L607.81,96.20 L607.32,95.70 L606.82,95.20 L606.30,94.70 L605.68,94.20 L605.09,93.70 L604.97,93.20 L604.93,92.70 L604.91,92.20 L604.90,91.70 L604.96,91.20 L605.09,90.70 L605.27,90.20 L605.48,89.70 L605.70,89.20 L605.96,88.70 L606.30,88.20 L606.70,87.70 L607.14,87.20 L607.61,86.70 L608.10,86.20 L608.68,85.70 L609.32,85.20 L609.98,84.70 L610.63,84.20 L611.24,83.70 L611.85,83.20 L612.46,82.70 L613.05,82.20 L613.64,81.70 L614.21,81.20 L614.77,80.70 L615.32,80.20 L615.87,79.70 L616.39,79.20 L616.90,78.70 L617.39,78.20 L617.87,77.70 L618.33,77.20 L618.79,76.70 L619.23,76.20 L619.65,75.70 L620.06,75.20 L620.45,74.70 L620.84,74.20 L621.25,73.70 L621.67,73.20 L622.13,72.70 L622.60,72.20 L623.07,71.70 L623.54,71.20 L623.99,70.70 L624.42,70.20 L624.83,69.70 L625.25,69.20 L625.67,68.70 L626.11,68.20 L626.59,67.70 L627.10,67.20 L627.63,66.70 L628.15,66.20 L628.63,65.70 L629.05,65.20 L629.45,64.70 L629.83,64.20 L630.19,63.70 L630.52,63.20 L630.82,62.70 L631.09,62.20 L631.34,61.70 L631.57,61.20 L631.81,60.70 L632.05,60.20 L632.30,59.70 L632.56,59.20 L632.81,58.70 L633.05,58.20 L633.26,57.70 L633.45,57.20 L633.63,56.70 L633.80,56.20 L633.95,55.70 L634.06,55.20 L634.15,54.70 L634.21,54.20 L634.27,53.70 L634.32,53.20 L634.37,52.70 L634.41,52.20 L634.45,51.70 L634.49,51.20 L634.53,50.70 L634.56,50.20 L634.60,49.70 L634.63,49.20 L634.66,48.70 L634.69,48.20 L634.72,47.70 L634.75,47.20 L634.78,46.70 L634.81,46.20 L634.84,45.70 L634.87,45.20 L634.90,44.70 L634.93,44.20 L634.97,43.70 L635.01,43.20 L635.06,42.70 L635.11,42.20 L635.18,41.70 L635.25,41.20 L635.32,40.70 L635.38,40.20 L635.44,39.70 L635.49,39.20 L635.53,38.70 L635.55,38.20 L635.56,37.70 L635.56,37.20 L635.57,36.70 L635.57,36.20 L635.57,35.70 L635.58,35.20 L635.58,34.70 L635.58,34.20 L635.59,33.70 L635.59,33.20 L635.59,32.70 L635.59,32.20 L635.59,31.70 L635.60,31.20 L635.60,30.70 L635.60,30.20 L635.60,29.70 L635.60,29.20 L635.60,28.70 L635.60,28.20 Z" fill="#ed736a" stroke="#262626" stroke-width="1.0" stroke-linejoin="round"/>
<path d="M479.90,46.30 H484.50 M482.20,46.30 V112.30 M479.90,112.30 H484.50" fill="none" stroke="rgba(255,255,255,0.88)" stroke-width="1.35"/>
<circle cx="482.2" cy="80.40" r="2.8" fill="#ffffff"/>
<path d="M556.50,41.50 H561.10 M558.80,41.50 V106.10 M556.50,106.10 H561.10" fill="none" stroke="rgba(255,255,255,0.88)" stroke-width="1.35"/>
<circle cx="558.8" cy="75.00" r="2.8" fill="#ffffff"/>
<path d="M633.30,62.00 H637.90 M635.60,62.00 V125.50 M633.30,125.50 H637.90" fill="none" stroke="rgba(255,255,255,0.88)" stroke-width="1.35"/>
<circle cx="635.6" cy="93.60" r="2.8" fill="#ffffff"/>
<line x1="436.6" y1="11" x2="436.6" y2="221.4" stroke="#333333" stroke-width="1.1"/>
<line x1="436.05" y1="221.4" x2="681.3" y2="221.4" stroke="#333333" stroke-width="1.1"/>
<line x1="434.1" y1="44.20" x2="436.6" y2="44.20" stroke="#333333" stroke-width="1.1"/>
<text x="432.30" y="49.10" font-size="10.4" text-anchor="end" font-weight="normal" fill="#4d4d4d" >0.82</text>
<line x1="434.1" y1="92.30" x2="436.6" y2="92.30" stroke="#333333" stroke-width="1.1"/>
<text x="432.30" y="97.20" font-size="10.4" text-anchor="end" font-weight="normal" fill="#4d4d4d" >0.80</text>
<line x1="434.1" y1="140.40" x2="436.6" y2="140.40" stroke="#333333" stroke-width="1.1"/>
<text x="432.30" y="145.30" font-size="10.4" text-anchor="end" font-weight="normal" fill="#4d4d4d" >0.78</text>
<line x1="434.1" y1="188.50" x2="436.6" y2="188.50" stroke="#333333" stroke-width="1.1"/>
<text x="432.30" y="193.40" font-size="10.4" text-anchor="end" font-weight="normal" fill="#4d4d4d" >0.76</text>
<text x="559.00" y="233.10" font-size="10.5" text-anchor="middle" font-weight="normal" fill="#000000" >Model</text>
<text x="0.00" y="0.00" font-size="10.5" text-anchor="middle" font-weight="normal" fill="#000000" transform="translate(405.1,116.20) rotate(-90)">AUROC on Test Set</text>
<rect x="595.7" y="186.40" width="7.0" height="10.1" fill="#2c6c8a" stroke="#444444" stroke-width="0.55"/>
<circle cx="599.2" cy="191.45" r="2.7" fill="#ffffff" fill-opacity="0.9"/>
<text x="607.20" y="195.50" font-size="10.75" text-anchor="start" font-weight="normal" fill="#000000" >Random Forest</text>
<rect x="595.7" y="196.50" width="7.0" height="10.1" fill="#97b9c0" stroke="#444444" stroke-width="0.55"/>
<circle cx="599.2" cy="201.55" r="2.7" fill="#ffffff" fill-opacity="0.9"/>
<text x="607.20" y="205.60" font-size="10.75" text-anchor="start" font-weight="normal" fill="#000000" >Lasso</text>
<rect x="595.7" y="206.60" width="7.0" height="10.1" fill="#ed736a" stroke="#444444" stroke-width="0.55"/>
<circle cx="599.2" cy="211.65" r="2.7" fill="#ffffff" fill-opacity="0.9"/>
<text x="607.20" y="215.70" font-size="10.75" text-anchor="start" font-weight="normal" fill="#000000" >XGBoost</text>
<path d="M482.20,349.30 L482.20,349.80 L482.20,350.30 L482.21,350.80 L482.21,351.30 L482.22,351.80 L482.23,352.30 L482.24,352.80 L482.26,353.30 L482.33,353.80 L482.43,354.30 L482.55,354.80 L482.66,355.30 L482.76,355.80 L482.85,356.30 L482.94,356.80 L483.05,357.30 L483.17,357.80 L483.30,358.30 L483.43,358.80 L483.59,359.30 L483.76,359.80 L483.96,360.30 L484.18,360.80 L484.43,361.30 L484.72,361.80 L485.06,362.30 L485.45,362.80 L485.95,363.30 L486.55,363.80 L487.21,364.30 L487.89,364.80 L488.57,365.30 L489.29,365.80 L490.06,366.30 L490.85,366.80 L491.67,367.30 L492.50,367.80 L493.35,368.30 L494.22,368.80 L495.12,369.30 L496.05,369.80 L497.01,370.30 L497.98,370.80 L498.97,371.30 L500.00,371.80 L501.07,372.30 L502.22,372.80 L503.48,373.30 L504.91,373.80 L506.37,374.30 L507.73,374.80 L509.03,375.30 L510.13,375.80 L511.24,376.30 L512.19,376.80 L512.68,377.30 L512.63,377.80 L512.39,378.30 L512.00,378.80 L511.53,379.30 L511.01,379.80 L510.38,380.30 L509.51,380.80 L508.47,381.30 L507.37,381.80 L506.29,382.30 L505.17,382.80 L503.99,383.30 L502.78,383.80 L501.57,384.30 L500.39,384.80 L499.21,385.30 L498.02,385.80 L496.86,386.30 L495.73,386.80 L494.63,387.30 L493.55,387.80 L492.45,388.30 L491.29,388.80 L490.00,389.30 L488.77,389.80 L487.76,390.30 L487.08,390.80 L486.55,391.30 L486.00,391.80 L485.28,392.30 L484.59,392.80 L484.20,393.30 L483.92,393.80 L483.69,394.30 L483.50,394.80 L483.32,395.30 L483.12,395.80 L482.89,396.30 L482.66,396.80 L482.46,397.30 L482.32,397.80 L482.26,398.30 L482.26,398.80 L482.25,399.30 L482.25,399.80 L482.25,400.30 L482.25,400.80 L482.24,401.30 L482.24,401.80 L482.23,402.30 L482.23,402.80 L482.22,403.30 L482.21,403.80 L482.20,404.30 L482.20,404.60 L482.20,404.30 L482.19,403.80 L482.18,403.30 L482.17,402.80 L482.17,402.30 L482.16,401.80 L482.16,401.30 L482.15,400.80 L482.15,400.30 L482.15,399.80 L482.15,399.30 L482.14,398.80 L482.14,398.30 L482.08,397.80 L481.94,397.30 L481.74,396.80 L481.51,396.30 L481.28,395.80 L481.08,395.30 L480.90,394.80 L480.71,394.30 L480.48,393.80 L480.20,393.30 L479.81,392.80 L479.12,392.30 L478.40,391.80 L477.85,391.30 L477.32,390.80 L476.64,390.30 L475.63,389.80 L474.40,389.30 L473.11,388.80 L471.95,388.30 L470.85,387.80 L469.77,387.30 L468.67,386.80 L467.54,386.30 L466.38,385.80 L465.19,385.30 L464.01,384.80 L462.83,384.30 L461.62,383.80 L460.41,383.30 L459.23,382.80 L458.11,382.30 L457.03,381.80 L455.93,381.30 L454.89,380.80 L454.02,380.30 L453.39,379.80 L452.87,379.30 L452.40,378.80 L452.01,378.30 L451.77,377.80 L451.72,377.30 L452.21,376.80 L453.16,376.30 L454.27,375.80 L455.37,375.30 L456.67,374.80 L458.03,374.30 L459.49,373.80 L460.92,373.30 L462.18,372.80 L463.33,372.30 L464.40,371.80 L465.43,371.30 L466.42,370.80 L467.39,370.30 L468.35,369.80 L469.28,369.30 L470.18,368.80 L471.05,368.30 L471.90,367.80 L472.73,367.30 L473.55,366.80 L474.34,366.30 L475.11,365.80 L475.83,365.30 L476.51,364.80 L477.19,364.30 L477.85,363.80 L478.45,363.30 L478.95,362.80 L479.34,362.30 L479.68,361.80 L479.97,361.30 L480.22,360.80 L480.44,360.30 L480.64,359.80 L480.81,359.30 L480.97,358.80 L481.10,358.30 L481.23,357.80 L481.35,357.30 L481.46,356.80 L481.55,356.30 L481.64,355.80 L481.74,355.30 L481.85,354.80 L481.97,354.30 L482.07,353.80 L482.14,353.30 L482.16,352.80 L482.17,352.30 L482.18,351.80 L482.19,351.30 L482.19,350.80 L482.20,350.30 L482.20,349.80 L482.20,349.30 Z" fill="#2c6c8a" stroke="#262626" stroke-width="1.0" stroke-linejoin="round"/>
<path d="M558.70,389.90 L558.70,390.40 L558.70,390.90 L558.70,391.40 L558.70,391.90 L558.71,392.40 L558.71,392.90 L558.71,393.40 L558.72,393.90 L558.72,394.40 L558.73,394.90 L558.73,395.40 L558.74,395.90 L558.75,396.40 L558.77,396.90 L558.81,397.40 L558.86,397.90 L558.91,398.40 L558.97,398.90 L559.04,399.40 L559.10,399.90 L559.17,400.40 L559.24,400.90 L559.32,401.40 L559.42,401.90 L559.51,402.40 L559.62,402.90 L559.72,403.40 L559.83,403.90 L559.94,404.40 L560.05,404.90 L560.17,405.40 L560.30,405.90 L560.43,406.40 L560.56,406.90 L560.70,407.40 L560.86,407.90 L561.06,408.40 L561.30,408.90 L561.62,409.40 L562.01,409.90 L562.44,410.40 L562.91,410.90 L563.41,411.40 L563.98,411.90 L564.62,412.40 L565.32,412.90 L566.07,413.40 L566.87,413.90 L567.82,414.40 L568.90,414.90 L570.02,415.40 L571.08,415.90 L572.00,416.40 L572.80,416.90 L573.55,417.40 L574.25,417.90 L574.88,418.40 L575.41,418.90 L575.79,419.40 L576.09,419.90 L576.50,420.40 L577.40,420.90 L578.68,421.40 L580.01,421.90 L581.45,422.40 L582.78,422.90 L584.05,423.40 L585.27,423.90 L586.44,424.40 L587.68,424.90 L588.73,425.40 L589.30,425.90 L589.66,426.40 L589.60,426.90 L589.13,427.40 L588.50,427.90 L587.72,428.40 L586.68,428.90 L585.48,429.40 L584.21,429.90 L582.94,430.40 L581.68,430.90 L580.29,431.40 L578.87,431.90 L577.51,432.40 L576.31,432.90 L575.34,433.40 L574.50,433.90 L573.75,434.40 L573.03,434.90 L572.31,435.40 L571.54,435.90 L570.75,436.40 L569.96,436.90 L569.16,437.40 L568.35,437.90 L567.50,438.40 L566.58,438.90 L565.58,439.40 L564.57,439.90 L563.64,440.40 L562.84,440.90 L562.18,441.40 L561.57,441.90 L561.02,442.40 L560.54,442.90 L560.14,443.40 L559.81,443.90 L559.49,444.40 L559.20,444.90 L558.96,445.40 L558.81,445.90 L558.76,446.40 L558.75,446.90 L558.75,447.40 L558.74,447.90 L558.74,448.40 L558.74,448.90 L558.73,449.40 L558.73,449.90 L558.73,450.40 L558.72,450.90 L558.72,451.40 L558.72,451.90 L558.72,452.40 L558.71,452.90 L558.71,453.40 L558.71,453.90 L558.71,454.40 L558.70,454.90 L558.70,455.40 L558.70,455.80 L558.70,455.40 L558.70,454.90 L558.69,454.40 L558.69,453.90 L558.69,453.40 L558.69,452.90 L558.68,452.40 L558.68,451.90 L558.68,451.40 L558.68,450.90 L558.67,450.40 L558.67,449.90 L558.67,449.40 L558.66,448.90 L558.66,448.40 L558.66,447.90 L558.65,447.40 L558.65,446.90 L558.64,446.40 L558.59,445.90 L558.44,445.40 L558.20,444.90 L557.91,444.40 L557.59,443.90 L557.26,443.40 L556.86,442.90 L556.38,442.40 L555.83,441.90 L555.22,441.40 L554.56,440.90 L553.76,440.40 L552.83,439.90 L551.82,439.40 L550.82,438.90 L549.90,438.40 L549.05,437.90 L548.24,437.40 L547.44,436.90 L546.65,436.40 L545.86,435.90 L545.09,435.40 L544.37,434.90 L543.65,434.40 L542.90,433.90 L542.06,433.40 L541.09,432.90 L539.89,432.40 L538.53,431.90 L537.11,431.40 L535.72,430.90 L534.46,430.40 L533.19,429.90 L531.92,429.40 L530.72,428.90 L529.68,428.40 L528.90,427.90 L528.27,427.40 L527.80,426.90 L527.74,426.40 L528.10,425.90 L528.67,425.40 L529.72,424.90 L530.96,424.40 L532.13,423.90 L533.35,423.40 L534.62,422.90 L535.95,422.40 L537.39,421.90 L538.72,421.40 L540.00,420.90 L540.90,420.40 L541.31,419.90 L541.61,419.40 L541.99,418.90 L542.52,418.40 L543.15,417.90 L543.85,417.40 L544.60,416.90 L545.40,416.40 L546.32,415.90 L547.38,415.40 L548.50,414.90 L549.58,414.40 L550.53,413.90 L551.33,413.40 L552.08,412.90 L552.78,412.40 L553.42,411.90 L553.99,411.40 L554.49,410.90 L554.96,410.40 L555.39,409.90 L555.78,409.40 L556.10,408.90 L556.34,408.40 L556.54,407.90 L556.70,407.40 L556.84,406.90 L556.97,406.40 L557.10,405.90 L557.23,405.40 L557.35,404.90 L557.46,404.40 L557.57,403.90 L557.68,403.40 L557.78,402.90 L557.89,402.40 L557.98,401.90 L558.08,401.40 L558.16,400.90 L558.23,400.40 L558.30,399.90 L558.36,399.40 L558.43,398.90 L558.49,398.40 L558.54,397.90 L558.59,397.40 L558.63,396.90 L558.65,396.40 L558.66,395.90 L558.67,395.40 L558.67,394.90 L558.68,394.40 L558.68,393.90 L558.69,393.40 L558.69,392.90 L558.69,392.40 L558.70,391.90 L558.70,391.40 L558.70,390.90 L558.70,390.40 L558.70,389.90 Z" fill="#97b9c0" stroke="#262626" stroke-width="1.0" stroke-linejoin="round"/>
<path d="M635.60,344.40 L635.61,344.90 L635.61,345.40 L635.62,345.90 L635.62,346.40 L635.63,346.90 L635.63,347.40 L635.64,347.90 L635.64,348.40 L635.64,348.90 L635.64,349.40 L635.65,349.90 L635.65,350.40 L635.65,350.90 L635.68,351.40 L635.74,351.90 L635.84,352.40 L635.96,352.90 L636.10,353.40 L636.25,353.90 L636.42,354.40 L636.64,354.90 L636.93,355.40 L637.26,355.90 L637.63,356.40 L638.04,356.90 L638.46,357.40 L638.92,357.90 L639.44,358.40 L640.02,358.90 L640.65,359.40 L641.33,359.90 L642.05,360.40 L642.81,360.90 L643.66,361.40 L644.62,361.90 L645.65,362.40 L646.72,362.90 L647.80,363.40 L648.84,363.90 L649.85,364.40 L650.84,364.90 L651.83,365.40 L652.82,365.90 L653.81,366.40 L654.82,366.90 L655.85,367.40 L656.92,367.90 L658.04,368.40 L659.17,368.90 L660.30,369.40 L661.38,369.90 L662.39,370.40 L663.33,370.90 L664.36,371.40 L665.35,371.90 L666.05,372.40 L666.24,372.90 L665.86,373.40 L665.08,373.90 L664.11,374.40 L663.13,374.90 L662.22,375.40 L661.22,375.90 L660.16,376.40 L659.04,376.90 L657.90,377.40 L656.75,377.90 L655.63,378.40 L654.48,378.90 L653.31,379.40 L652.12,379.90 L650.93,380.40 L649.75,380.90 L648.60,381.40 L647.46,381.90 L646.27,382.40 L645.07,382.90 L643.89,383.40 L642.80,383.90 L641.84,384.40 L641.05,384.90 L640.39,385.40 L639.79,385.90 L639.24,386.40 L638.74,386.90 L638.31,387.40 L637.94,387.90 L637.63,388.40 L637.36,388.90 L637.12,389.40 L636.90,389.90 L636.71,390.40 L636.53,390.90 L636.38,391.40 L636.23,391.90 L636.08,392.40 L635.94,392.90 L635.82,393.40 L635.72,393.90 L635.67,394.40 L635.65,394.90 L635.65,395.40 L635.64,395.90 L635.64,396.40 L635.64,396.90 L635.63,397.40 L635.63,397.90 L635.62,398.40 L635.61,398.90 L635.61,399.40 L635.60,399.70 L635.59,399.40 L635.59,398.90 L635.58,398.40 L635.57,397.90 L635.57,397.40 L635.56,396.90 L635.56,396.40 L635.56,395.90 L635.55,395.40 L635.55,394.90 L635.53,394.40 L635.48,393.90 L635.38,393.40 L635.26,392.90 L635.12,392.40 L634.97,391.90 L634.82,391.40 L634.67,390.90 L634.49,390.40 L634.30,389.90 L634.08,389.40 L633.84,388.90 L633.57,388.40 L633.26,387.90 L632.89,387.40 L632.46,386.90 L631.96,386.40 L631.41,385.90 L630.81,385.40 L630.15,384.90 L629.36,384.40 L628.40,383.90 L627.31,383.40 L626.13,382.90 L624.93,382.40 L623.74,381.90 L622.60,381.40 L621.45,380.90 L620.27,380.40 L619.08,379.90 L617.89,379.40 L616.72,378.90 L615.57,378.40 L614.45,377.90 L613.30,377.40 L612.16,376.90 L611.04,376.40 L609.98,375.90 L608.98,375.40 L608.07,374.90 L607.09,374.40 L606.12,373.90 L605.34,373.40 L604.96,372.90 L605.15,372.40 L605.85,371.90 L606.84,371.40 L607.87,370.90 L608.81,370.40 L609.82,369.90 L610.90,369.40 L612.03,368.90 L613.16,368.40 L614.28,367.90 L615.35,367.40 L616.38,366.90 L617.39,366.40 L618.38,365.90 L619.37,365.40 L620.36,364.90 L621.35,364.40 L622.36,363.90 L623.40,363.40 L624.48,362.90 L625.55,362.40 L626.58,361.90 L627.54,361.40 L628.39,360.90 L629.15,360.40 L629.87,359.90 L630.55,359.40 L631.18,358.90 L631.76,358.40 L632.28,357.90 L632.74,357.40 L633.16,356.90 L633.57,356.40 L633.94,355.90 L634.27,355.40 L634.56,354.90 L634.78,354.40 L634.95,353.90 L635.10,353.40 L635.24,352.90 L635.36,352.40 L635.46,351.90 L635.52,351.40 L635.55,350.90 L635.55,350.40 L635.55,349.90 L635.56,349.40 L635.56,348.90 L635.56,348.40 L635.56,347.90 L635.57,347.40 L635.57,346.90 L635.58,346.40 L635.58,345.90 L635.59,345.40 L635.59,344.90 L635.60,344.40 Z" fill="#ed736a" stroke="#262626" stroke-width="1.0" stroke-linejoin="round"/>
<path d="M479.90,363.20 H484.50 M482.20,363.20 V390.90 M479.90,390.90 H484.50" fill="none" stroke="rgba(255,255,255,0.88)" stroke-width="1.35"/>
<circle cx="482.2" cy="377.60" r="2.8" fill="#ffffff"/>
<path d="M556.40,410.40 H561.00 M558.70,410.40 V439.40 M556.40,439.40 H561.00" fill="none" stroke="rgba(255,255,255,0.88)" stroke-width="1.35"/>
<circle cx="558.7" cy="426.40" r="2.8" fill="#ffffff"/>
<path d="M633.30,359.50 H637.90 M635.60,359.50 V386.50 M633.30,386.50 H637.90" fill="none" stroke="rgba(255,255,255,0.88)" stroke-width="1.35"/>
<circle cx="635.6" cy="372.60" r="2.8" fill="#ffffff"/>
<line x1="436.6" y1="254.3" x2="436.6" y2="465" stroke="#333333" stroke-width="1.1"/>
<line x1="436.05" y1="465" x2="681.3" y2="465" stroke="#333333" stroke-width="1.1"/>
<line x1="434.1" y1="287.30" x2="436.6" y2="287.30" stroke="#333333" stroke-width="1.1"/>
<text x="432.30" y="292.20" font-size="10.4" text-anchor="end" font-weight="normal" fill="#4d4d4d" >0.82</text>
<line x1="434.1" y1="335.40" x2="436.6" y2="335.40" stroke="#333333" stroke-width="1.1"/>
<text x="432.30" y="340.30" font-size="10.4" text-anchor="end" font-weight="normal" fill="#4d4d4d" >0.80</text>
<line x1="434.1" y1="383.50" x2="436.6" y2="383.50" stroke="#333333" stroke-width="1.1"/>
<text x="432.30" y="388.40" font-size="10.4" text-anchor="end" font-weight="normal" fill="#4d4d4d" >0.78</text>
<line x1="434.1" y1="431.60" x2="436.6" y2="431.60" stroke="#333333" stroke-width="1.1"/>
<text x="432.30" y="436.50" font-size="10.4" text-anchor="end" font-weight="normal" fill="#4d4d4d" >0.76</text>
<text x="559.00" y="476.70" font-size="10.5" text-anchor="middle" font-weight="normal" fill="#000000" >Model</text>
<text x="0.00" y="0.00" font-size="10.5" text-anchor="middle" font-weight="normal" fill="#000000" transform="translate(405.1,359.65) rotate(-90)">AUROC on Test Set</text>
<path d="M482.20,493.90 L482.20,494.40 L482.20,494.90 L482.20,495.40 L482.21,495.90 L482.21,496.40 L482.22,496.90 L482.22,497.40 L482.23,497.90 L482.23,498.40 L482.24,498.90 L482.25,499.40 L482.26,499.90 L482.27,500.40 L482.29,500.90 L482.32,501.40 L482.35,501.90 L482.39,502.40 L482.44,502.90 L482.49,503.40 L482.54,503.90 L482.60,504.40 L482.66,504.90 L482.72,505.40 L482.79,505.90 L482.87,506.40 L482.96,506.90 L483.07,507.40 L483.18,507.90 L483.29,508.40 L483.41,508.90 L483.53,509.40 L483.65,509.90 L483.77,510.40 L483.91,510.90 L484.04,511.40 L484.18,511.90 L484.32,512.40 L484.45,512.90 L484.57,513.40 L484.69,513.90 L484.80,514.40 L484.91,514.90 L485.02,515.40 L485.13,515.90 L485.24,516.40 L485.37,516.90 L485.51,517.40 L485.66,517.90 L485.83,518.40 L486.01,518.90 L486.19,519.40 L486.39,519.90 L486.58,520.40 L486.77,520.90 L486.97,521.40 L487.16,521.90 L487.36,522.40 L487.57,522.90 L487.78,523.40 L487.99,523.90 L488.20,524.40 L488.41,524.90 L488.62,525.40 L488.83,525.90 L489.04,526.40 L489.26,526.90 L489.48,527.40 L489.70,527.90 L489.92,528.40 L490.15,528.90 L490.38,529.40 L490.62,529.90 L490.86,530.40 L491.11,530.90 L491.35,531.40 L491.60,531.90 L491.85,532.40 L492.10,532.90 L492.34,533.40 L492.58,533.90 L492.81,534.40 L493.05,534.90 L493.30,535.40 L493.57,535.90 L493.86,536.40 L494.18,536.90 L494.56,537.40 L494.97,537.90 L495.42,538.40 L495.90,538.90 L496.38,539.40 L496.87,539.90 L497.36,540.40 L497.84,540.90 L498.32,541.40 L498.82,541.90 L499.33,542.40 L499.84,542.90 L500.35,543.40 L500.85,543.90 L501.35,544.40 L501.85,544.90 L502.34,545.40 L502.83,545.90 L503.33,546.40 L503.82,546.90 L504.30,547.40 L504.78,547.90 L505.25,548.40 L505.72,548.90 L506.20,549.40 L506.67,549.90 L507.14,550.40 L507.60,550.90 L508.03,551.40 L508.44,551.90 L508.82,552.40 L509.19,552.90 L509.55,553.40 L509.90,553.90 L510.23,554.40 L510.54,554.90 L510.82,555.40 L511.06,555.90 L511.27,556.40 L511.47,556.90 L511.65,557.40 L511.82,557.90 L511.98,558.40 L512.11,558.90 L512.23,559.40 L512.33,559.90 L512.42,560.40 L512.50,560.90 L512.57,561.40 L512.62,561.90 L512.65,562.40 L512.60,562.90 L512.43,563.40 L512.15,563.90 L511.80,564.40 L511.40,564.90 L510.99,565.40 L510.58,565.90 L510.19,566.40 L509.74,566.90 L509.22,567.40 L508.68,567.90 L508.14,568.40 L507.64,568.90 L507.23,569.40 L506.93,569.90 L506.76,570.40 L506.62,570.90 L506.51,571.40 L506.41,571.90 L506.33,572.40 L506.25,572.90 L506.16,573.40 L506.07,573.90 L505.97,574.40 L505.89,574.90 L505.80,575.40 L505.72,575.90 L505.63,576.40 L505.53,576.90 L505.40,577.40 L505.25,577.90 L505.02,578.40 L504.68,578.90 L504.25,579.40 L503.76,579.90 L503.23,580.40 L502.69,580.90 L502.16,581.40 L501.65,581.90 L501.15,582.40 L500.62,582.90 L500.09,583.40 L499.54,583.90 L498.99,584.40 L498.43,584.90 L497.88,585.40 L497.33,585.90 L496.77,586.40 L496.19,586.90 L495.61,587.40 L495.03,587.90 L494.47,588.40 L493.94,588.90 L493.44,589.40 L492.98,589.90 L492.54,590.40 L492.11,590.90 L491.71,591.40 L491.32,591.90 L490.94,592.40 L490.57,592.90 L490.22,593.40 L489.87,593.90 L489.53,594.40 L489.20,594.90 L488.88,595.40 L488.57,595.90 L488.28,596.40 L488.00,596.90 L487.75,597.40 L487.52,597.90 L487.31,598.40 L487.11,598.90 L486.93,599.40 L486.74,599.90 L486.56,600.40 L486.37,600.90 L486.17,601.40 L485.95,601.90 L485.73,602.40 L485.51,602.90 L485.29,603.40 L485.08,603.90 L484.88,604.40 L484.71,604.90 L484.56,605.40 L484.43,605.90 L484.30,606.40 L484.18,606.90 L484.07,607.40 L483.96,607.90 L483.86,608.40 L483.77,608.90 L483.68,609.40 L483.59,609.90 L483.51,610.40 L483.43,610.90 L483.35,611.40 L483.28,611.90 L483.21,612.40 L483.15,612.90 L483.09,613.40 L483.04,613.90 L482.98,614.40 L482.93,614.90 L482.88,615.40 L482.84,615.90 L482.79,616.40 L482.74,616.90 L482.69,617.40 L482.63,617.90 L482.57,618.40 L482.50,618.90 L482.44,619.40 L482.39,619.90 L482.34,620.40 L482.30,620.90 L482.27,621.40 L482.26,621.90 L482.26,622.40 L482.26,622.90 L482.26,623.40 L482.25,623.90 L482.25,624.40 L482.25,624.90 L482.25,625.40 L482.25,625.90 L482.25,626.40 L482.25,626.90 L482.25,627.40 L482.25,627.90 L482.25,628.40 L482.25,628.90 L482.25,629.40 L482.25,629.90 L482.24,630.40 L482.24,630.90 L482.24,631.40 L482.24,631.90 L482.24,632.40 L482.24,632.90 L482.24,633.40 L482.24,633.90 L482.24,634.40 L482.23,634.90 L482.23,635.40 L482.23,635.90 L482.23,636.40 L482.23,636.90 L482.23,637.40 L482.23,637.90 L482.23,638.40 L482.22,638.90 L482.22,639.40 L482.22,639.90 L482.22,640.40 L482.22,640.90 L482.22,641.40 L482.22,641.90 L482.21,642.40 L482.21,642.90 L482.21,643.40 L482.21,643.90 L482.21,644.40 L482.21,644.90 L482.21,645.40 L482.20,645.90 L482.20,646.40 L482.20,646.90 L482.20,647.20 L482.20,646.90 L482.20,646.40 L482.20,645.90 L482.19,645.40 L482.19,644.90 L482.19,644.40 L482.19,643.90 L482.19,643.40 L482.19,642.90 L482.19,642.40 L482.18,641.90 L482.18,641.40 L482.18,640.90 L482.18,640.40 L482.18,639.90 L482.18,639.40 L482.18,638.90 L482.17,638.40 L482.17,637.90 L482.17,637.40 L482.17,636.90 L482.17,636.40 L482.17,635.90 L482.17,635.40 L482.17,634.90 L482.16,634.40 L482.16,633.90 L482.16,633.40 L482.16,632.90 L482.16,632.40 L482.16,631.90 L482.16,631.40 L482.16,630.90 L482.16,630.40 L482.15,629.90 L482.15,629.40 L482.15,628.90 L482.15,628.40 L482.15,627.90 L482.15,627.40 L482.15,626.90 L482.15,626.40 L482.15,625.90 L482.15,625.40 L482.15,624.90 L482.15,624.40 L482.15,623.90 L482.14,623.40 L482.14,622.90 L482.14,622.40 L482.14,621.90 L482.13,621.40 L482.10,620.90 L482.06,620.40 L482.01,619.90 L481.96,619.40 L481.90,618.90 L481.83,618.40 L481.77,617.90 L481.71,617.40 L481.66,616.90 L481.61,616.40 L481.56,615.90 L481.52,615.40 L481.47,614.90 L481.42,614.40 L481.36,613.90 L481.31,613.40 L481.25,612.90 L481.19,612.40 L481.12,611.90 L481.05,611.40 L480.97,610.90 L480.89,610.40 L480.81,609.90 L480.72,609.40 L480.63,608.90 L480.54,608.40 L480.44,607.90 L480.33,607.40 L480.22,606.90 L480.10,606.40 L479.97,605.90 L479.84,605.40 L479.69,604.90 L479.52,604.40 L479.32,603.90 L479.11,603.40 L478.89,602.90 L478.67,602.40 L478.45,601.90 L478.23,601.40 L478.03,600.90 L477.84,600.40 L477.66,599.90 L477.47,599.40 L477.29,598.90 L477.09,598.40 L476.88,597.90 L476.65,597.40 L476.40,596.90 L476.12,596.40 L475.83,595.90 L475.52,595.40 L475.20,594.90 L474.87,594.40 L474.53,593.90 L474.18,593.40 L473.83,592.90 L473.46,592.40 L473.08,591.90 L472.69,591.40 L472.29,590.90 L471.86,590.40 L471.42,589.90 L470.96,589.40 L470.46,588.90 L469.93,588.40 L469.37,587.90 L468.79,587.40 L468.21,586.90 L467.63,586.40 L467.07,585.90 L466.52,585.40 L465.97,584.90 L465.41,584.40 L464.86,583.90 L464.31,583.40 L463.78,582.90 L463.25,582.40 L462.75,581.90 L462.24,581.40 L461.71,580.90 L461.17,580.40 L460.64,579.90 L460.15,579.40 L459.72,578.90 L459.38,578.40 L459.15,577.90 L459.00,577.40 L458.87,576.90 L458.77,576.40 L458.68,575.90 L458.60,575.40 L458.51,574.90 L458.43,574.40 L458.33,573.90 L458.24,573.40 L458.15,572.90 L458.07,572.40 L457.99,571.90 L457.89,571.40 L457.78,570.90 L457.64,570.40 L457.47,569.90 L457.17,569.40 L456.76,568.90 L456.26,568.40 L455.72,567.90 L455.18,567.40 L454.66,566.90 L454.21,566.40 L453.82,565.90 L453.41,565.40 L453.00,564.90 L452.60,564.40 L452.25,563.90 L451.97,563.40 L451.80,562.90 L451.75,562.40 L451.78,561.90 L451.83,561.40 L451.90,560.90 L451.98,560.40 L452.07,559.90 L452.17,559.40 L452.29,558.90 L452.42,558.40 L452.58,557.90 L452.75,557.40 L452.93,556.90 L453.13,556.40 L453.34,555.90 L453.58,555.40 L453.86,554.90 L454.17,554.40 L454.50,553.90 L454.85,553.40 L455.21,552.90 L455.58,552.40 L455.96,551.90 L456.37,551.40 L456.80,550.90 L457.26,550.40 L457.73,549.90 L458.20,549.40 L458.68,548.90 L459.15,548.40 L459.62,547.90 L460.10,547.40 L460.58,546.90 L461.07,546.40 L461.57,545.90 L462.06,545.40 L462.55,544.90 L463.05,544.40 L463.55,543.90 L464.05,543.40 L464.56,542.90 L465.07,542.40 L465.58,541.90 L466.08,541.40 L466.56,540.90 L467.04,540.40 L467.53,539.90 L468.02,539.40 L468.50,538.90 L468.98,538.40 L469.43,537.90 L469.84,537.40 L470.22,536.90 L470.54,536.40 L470.83,535.90 L471.10,535.40 L471.35,534.90 L471.59,534.40 L471.82,533.90 L472.06,533.40 L472.30,532.90 L472.55,532.40 L472.80,531.90 L473.05,531.40 L473.29,530.90 L473.54,530.40 L473.78,529.90 L474.02,529.40 L474.25,528.90 L474.48,528.40 L474.70,527.90 L474.92,527.40 L475.14,526.90 L475.36,526.40 L475.57,525.90 L475.78,525.40 L475.99,524.90 L476.20,524.40 L476.41,523.90 L476.62,523.40 L476.83,522.90 L477.04,522.40 L477.24,521.90 L477.43,521.40 L477.63,520.90 L477.82,520.40 L478.01,519.90 L478.21,519.40 L478.39,518.90 L478.57,518.40 L478.74,517.90 L478.89,517.40 L479.03,516.90 L479.16,516.40 L479.27,515.90 L479.38,515.40 L479.49,514.90 L479.60,514.40 L479.71,513.90 L479.83,513.40 L479.95,512.90 L480.08,512.40 L480.22,511.90 L480.36,511.40 L480.49,510.90 L480.63,510.40 L480.75,509.90 L480.87,509.40 L480.99,508.90 L481.11,508.40 L481.22,507.90 L481.33,507.40 L481.44,506.90 L481.53,506.40 L481.61,505.90 L481.68,505.40 L481.74,504.90 L481.80,504.40 L481.86,503.90 L481.91,503.40 L481.96,502.90 L482.01,502.40 L482.05,501.90 L482.08,501.40 L482.11,500.90 L482.13,500.40 L482.14,499.90 L482.15,499.40 L482.16,498.90 L482.17,498.40 L482.17,497.90 L482.18,497.40 L482.18,496.90 L482.19,496.40 L482.19,495.90 L482.20,495.40 L482.20,494.90 L482.20,494.40 L482.20,493.90 Z" fill="#2c6c8a" stroke="#262626" stroke-width="1.0" stroke-linejoin="round"/>
<path d="M558.70,494.30 L558.70,494.80 L558.70,495.30 L558.70,495.80 L558.70,496.30 L558.71,496.80 L558.71,497.30 L558.71,497.80 L558.72,498.30 L558.72,498.80 L558.73,499.30 L558.73,499.80 L558.74,500.30 L558.74,500.80 L558.75,501.30 L558.76,501.80 L558.77,502.30 L558.79,502.80 L558.82,503.30 L558.86,503.80 L558.91,504.30 L558.97,504.80 L559.03,505.30 L559.10,505.80 L559.17,506.30 L559.24,506.80 L559.31,507.30 L559.38,507.80 L559.45,508.30 L559.52,508.80 L559.58,509.30 L559.63,509.80 L559.69,510.30 L559.74,510.80 L559.79,511.30 L559.84,511.80 L559.90,512.30 L559.95,512.80 L560.00,513.30 L560.05,513.80 L560.10,514.30 L560.15,514.80 L560.21,515.30 L560.26,515.80 L560.31,516.30 L560.36,516.80 L560.41,517.30 L560.46,517.80 L560.50,518.30 L560.54,518.80 L560.59,519.30 L560.63,519.80 L560.68,520.30 L560.73,520.80 L560.80,521.30 L560.87,521.80 L560.96,522.30 L561.09,522.80 L561.24,523.30 L561.42,523.80 L561.60,524.30 L561.77,524.80 L561.94,525.30 L562.12,525.80 L562.31,526.30 L562.50,526.80 L562.70,527.30 L562.90,527.80 L563.12,528.30 L563.33,528.80 L563.55,529.30 L563.76,529.80 L563.95,530.30 L564.14,530.80 L564.31,531.30 L564.50,531.80 L564.71,532.30 L564.95,532.80 L565.23,533.30 L565.55,533.80 L565.87,534.30 L566.21,534.80 L566.53,535.30 L566.85,535.80 L567.17,536.30 L567.50,536.80 L567.84,537.30 L568.20,537.80 L568.59,538.30 L569.00,538.80 L569.44,539.30 L569.87,539.80 L570.31,540.30 L570.75,540.80 L571.20,541.30 L571.65,541.80 L572.09,542.30 L572.53,542.80 L572.95,543.30 L573.35,543.80 L573.75,544.30 L574.15,544.80 L574.55,545.30 L574.97,545.80 L575.41,546.30 L575.86,546.80 L576.32,547.30 L576.77,547.80 L577.20,548.30 L577.62,548.80 L578.02,549.30 L578.42,549.80 L578.82,550.30 L579.22,550.80 L579.62,551.30 L580.02,551.80 L580.42,552.30 L580.83,552.80 L581.23,553.30 L581.65,553.80 L582.08,554.30 L582.52,554.80 L582.95,555.30 L583.38,555.80 L583.78,556.30 L584.17,556.80 L584.55,557.30 L584.91,557.80 L585.27,558.30 L585.60,558.80 L585.91,559.30 L586.21,559.80 L586.50,560.30 L586.78,560.80 L587.05,561.30 L587.32,561.80 L587.61,562.30 L587.91,562.80 L588.20,563.30 L588.47,563.80 L588.70,564.30 L588.88,564.80 L589.00,565.30 L589.08,565.80 L589.16,566.30 L589.23,566.80 L589.29,567.30 L589.35,567.80 L589.40,568.30 L589.44,568.80 L589.47,569.30 L589.49,569.80 L589.50,570.30 L589.50,570.80 L589.49,571.30 L589.47,571.80 L589.45,572.30 L589.42,572.80 L589.38,573.30 L589.31,573.80 L589.20,574.30 L589.06,574.80 L588.89,575.30 L588.70,575.80 L588.45,576.30 L588.09,576.80 L587.67,577.30 L587.20,577.80 L586.70,578.30 L586.16,578.80 L585.53,579.30 L584.84,579.80 L584.14,580.30 L583.46,580.80 L582.81,581.30 L582.14,581.80 L581.47,582.30 L580.85,582.80 L580.34,583.30 L579.97,583.80 L579.68,584.30 L579.44,584.80 L579.22,585.30 L579.01,585.80 L578.80,586.30 L578.57,586.80 L578.35,587.30 L578.13,587.80 L577.93,588.30 L577.74,588.80 L577.57,589.30 L577.42,589.80 L577.28,590.30 L577.13,590.80 L576.97,591.30 L576.78,591.80 L576.57,592.30 L576.34,592.80 L576.09,593.30 L575.83,593.80 L575.54,594.30 L575.23,594.80 L574.89,595.30 L574.53,595.80 L574.15,596.30 L573.75,596.80 L573.35,597.30 L572.93,597.80 L572.51,598.30 L572.06,598.80 L571.60,599.30 L571.11,599.80 L570.60,600.30 L570.05,600.80 L569.44,601.30 L568.82,601.80 L568.20,602.30 L567.61,602.80 L567.05,603.30 L566.48,603.80 L565.92,604.30 L565.41,604.80 L564.96,605.30 L564.59,605.80 L564.27,606.30 L563.99,606.80 L563.72,607.30 L563.46,607.80 L563.19,608.30 L562.91,608.80 L562.64,609.30 L562.37,609.80 L562.12,610.30 L561.90,610.80 L561.70,611.30 L561.50,611.80 L561.33,612.30 L561.17,612.80 L561.03,613.30 L560.91,613.80 L560.80,614.30 L560.71,614.80 L560.62,615.30 L560.53,615.80 L560.45,616.30 L560.37,616.80 L560.29,617.30 L560.21,617.80 L560.14,618.30 L560.07,618.80 L560.01,619.30 L559.95,619.80 L559.90,620.30 L559.85,620.80 L559.80,621.30 L559.76,621.80 L559.72,622.30 L559.69,622.80 L559.65,623.30 L559.61,623.80 L559.56,624.30 L559.50,624.80 L559.44,625.30 L559.38,625.80 L559.32,626.30 L559.27,626.80 L559.20,627.30 L559.14,627.80 L559.07,628.30 L559.00,628.80 L558.94,629.30 L558.88,629.80 L558.83,630.30 L558.79,630.80 L558.77,631.30 L558.75,631.80 L558.75,632.30 L558.74,632.80 L558.74,633.30 L558.74,633.80 L558.73,634.30 L558.73,634.80 L558.73,635.30 L558.72,635.80 L558.72,636.30 L558.72,636.80 L558.72,637.30 L558.72,637.80 L558.71,638.30 L558.71,638.80 L558.71,639.30 L558.71,639.80 L558.71,640.30 L558.71,640.80 L558.70,641.30 L558.70,641.80 L558.70,642.30 L558.70,642.80 L558.70,643.30 L558.70,643.80 L558.70,644.30 L558.70,644.80 L558.70,645.30 L558.70,645.60 L558.70,645.30 L558.70,644.80 L558.70,644.30 L558.70,643.80 L558.70,643.30 L558.70,642.80 L558.70,642.30 L558.70,641.80 L558.70,641.30 L558.69,640.80 L558.69,640.30 L558.69,639.80 L558.69,639.30 L558.69,638.80 L558.69,638.30 L558.68,637.80 L558.68,637.30 L558.68,636.80 L558.68,636.30 L558.68,635.80 L558.67,635.30 L558.67,634.80 L558.67,634.30 L558.66,633.80 L558.66,633.30 L558.66,632.80 L558.65,632.30 L558.65,631.80 L558.63,631.30 L558.61,630.80 L558.57,630.30 L558.52,629.80 L558.46,629.30 L558.40,628.80 L558.33,628.30 L558.26,627.80 L558.20,627.30 L558.13,626.80 L558.08,626.30 L558.02,625.80 L557.96,625.30 L557.90,624.80 L557.84,624.30 L557.79,623.80 L557.75,623.30 L557.71,622.80 L557.68,622.30 L557.64,621.80 L557.60,621.30 L557.55,620.80 L557.50,620.30 L557.45,619.80 L557.39,619.30 L557.33,618.80 L557.26,618.30 L557.19,617.80 L557.11,617.30 L557.03,616.80 L556.95,616.30 L556.87,615.80 L556.78,615.30 L556.69,614.80 L556.60,614.30 L556.49,613.80 L556.37,613.30 L556.23,612.80 L556.07,612.30 L555.90,611.80 L555.70,611.30 L555.50,610.80 L555.28,610.30 L555.03,609.80 L554.76,609.30 L554.49,608.80 L554.21,608.30 L553.94,607.80 L553.68,607.30 L553.41,606.80 L553.13,606.30 L552.81,605.80 L552.44,605.30 L551.99,604.80 L551.48,604.30 L550.92,603.80 L550.35,603.30 L549.79,602.80 L549.20,602.30 L548.58,601.80 L547.96,601.30 L547.35,600.80 L546.80,600.30 L546.29,599.80 L545.80,599.30 L545.34,598.80 L544.89,598.30 L544.47,597.80 L544.05,597.30 L543.65,596.80 L543.25,596.30 L542.87,595.80 L542.51,595.30 L542.17,594.80 L541.86,594.30 L541.57,593.80 L541.31,593.30 L541.06,592.80 L540.83,592.30 L540.62,591.80 L540.43,591.30 L540.27,590.80 L540.12,590.30 L539.98,589.80 L539.83,589.30 L539.66,588.80 L539.47,588.30 L539.27,587.80 L539.05,587.30 L538.83,586.80 L538.60,586.30 L538.39,585.80 L538.18,585.30 L537.96,584.80 L537.72,584.30 L537.43,583.80 L537.06,583.30 L536.55,582.80 L535.93,582.30 L535.26,581.80 L534.59,581.30 L533.94,580.80 L533.26,580.30 L532.56,579.80 L531.87,579.30 L531.24,578.80 L530.70,578.30 L530.20,577.80 L529.73,577.30 L529.31,576.80 L528.95,576.30 L528.70,575.80 L528.51,575.30 L528.34,574.80 L528.20,574.30 L528.09,573.80 L528.02,573.30 L527.98,572.80 L527.95,572.30 L527.93,571.80 L527.91,571.30 L527.90,570.80 L527.90,570.30 L527.91,569.80 L527.93,569.30 L527.96,568.80 L528.00,568.30 L528.05,567.80 L528.11,567.30 L528.17,566.80 L528.24,566.30 L528.32,565.80 L528.40,565.30 L528.52,564.80 L528.70,564.30 L528.93,563.80 L529.20,563.30 L529.49,562.80 L529.79,562.30 L530.08,561.80 L530.35,561.30 L530.62,560.80 L530.90,560.30 L531.19,559.80 L531.49,559.30 L531.80,558.80 L532.13,558.30 L532.49,557.80 L532.85,557.30 L533.23,556.80 L533.62,556.30 L534.02,555.80 L534.45,555.30 L534.88,554.80 L535.32,554.30 L535.75,553.80 L536.17,553.30 L536.57,552.80 L536.98,552.30 L537.38,551.80 L537.78,551.30 L538.18,550.80 L538.58,550.30 L538.98,549.80 L539.38,549.30 L539.78,548.80 L540.20,548.30 L540.63,547.80 L541.08,547.30 L541.54,546.80 L541.99,546.30 L542.43,545.80 L542.85,545.30 L543.25,544.80 L543.65,544.30 L544.05,543.80 L544.45,543.30 L544.87,542.80 L545.31,542.30 L545.75,541.80 L546.20,541.30 L546.65,540.80 L547.09,540.30 L547.53,539.80 L547.96,539.30 L548.40,538.80 L548.81,538.30 L549.20,537.80 L549.56,537.30 L549.90,536.80 L550.23,536.30 L550.55,535.80 L550.87,535.30 L551.19,534.80 L551.53,534.30 L551.85,533.80 L552.17,533.30 L552.45,532.80 L552.69,532.30 L552.90,531.80 L553.09,531.30 L553.26,530.80 L553.45,530.30 L553.64,529.80 L553.85,529.30 L554.07,528.80 L554.28,528.30 L554.50,527.80 L554.70,527.30 L554.90,526.80 L555.09,526.30 L555.28,525.80 L555.46,525.30 L555.63,524.80 L555.80,524.30 L555.98,523.80 L556.16,523.30 L556.31,522.80 L556.44,522.30 L556.53,521.80 L556.60,521.30 L556.67,520.80 L556.72,520.30 L556.77,519.80 L556.81,519.30 L556.86,518.80 L556.90,518.30 L556.94,517.80 L556.99,517.30 L557.04,516.80 L557.09,516.30 L557.14,515.80 L557.19,515.30 L557.25,514.80 L557.30,514.30 L557.35,513.80 L557.40,513.30 L557.45,512.80 L557.50,512.30 L557.56,511.80 L557.61,511.30 L557.66,510.80 L557.71,510.30 L557.77,509.80 L557.82,509.30 L557.88,508.80 L557.95,508.30 L558.02,507.80 L558.09,507.30 L558.16,506.80 L558.23,506.30 L558.30,505.80 L558.37,505.30 L558.43,504.80 L558.49,504.30 L558.54,503.80 L558.58,503.30 L558.61,502.80 L558.63,502.30 L558.64,501.80 L558.65,501.30 L558.66,500.80 L558.66,500.30 L558.67,499.80 L558.67,499.30 L558.68,498.80 L558.68,498.30 L558.69,497.80 L558.69,497.30 L558.69,496.80 L558.70,496.30 L558.70,495.80 L558.70,495.30 L558.70,494.80 L558.70,494.30 Z" fill="#97b9c0" stroke="#262626" stroke-width="1.0" stroke-linejoin="round"/>
<path d="M635.60,500.80 L635.60,501.30 L635.61,501.80 L635.61,502.30 L635.61,502.80 L635.62,503.30 L635.62,503.80 L635.62,504.30 L635.62,504.80 L635.63,505.30 L635.63,505.80 L635.63,506.30 L635.63,506.80 L635.64,507.30 L635.64,507.80 L635.64,508.30 L635.64,508.80 L635.64,509.30 L635.64,509.80 L635.65,510.30 L635.65,510.80 L635.65,511.30 L635.65,511.80 L635.65,512.30 L635.65,512.80 L635.65,513.30 L635.65,513.80 L635.65,514.30 L635.65,514.80 L635.65,515.30 L635.65,515.80 L635.65,516.30 L635.66,516.80 L635.66,517.30 L635.66,517.80 L635.66,518.30 L635.67,518.80 L635.68,519.30 L635.70,519.80 L635.72,520.30 L635.75,520.80 L635.79,521.30 L635.83,521.80 L635.87,522.30 L635.92,522.80 L635.97,523.30 L636.02,523.80 L636.07,524.30 L636.12,524.80 L636.17,525.30 L636.22,525.80 L636.27,526.30 L636.33,526.80 L636.39,527.30 L636.45,527.80 L636.52,528.30 L636.59,528.80 L636.66,529.30 L636.72,529.80 L636.79,530.30 L636.85,530.80 L636.90,531.30 L636.96,531.80 L637.02,532.30 L637.08,532.80 L637.15,533.30 L637.23,533.80 L637.33,534.30 L637.44,534.80 L637.57,535.30 L637.71,535.80 L637.86,536.30 L638.02,536.80 L638.19,537.30 L638.35,537.80 L638.52,538.30 L638.69,538.80 L638.87,539.30 L639.06,539.80 L639.26,540.30 L639.46,540.80 L639.67,541.30 L639.90,541.80 L640.13,542.30 L640.37,542.80 L640.62,543.30 L640.89,543.80 L641.16,544.30 L641.46,544.80 L641.76,545.30 L642.08,545.80 L642.42,546.30 L642.78,546.80 L643.16,547.30 L643.57,547.80 L643.98,548.30 L644.42,548.80 L644.87,549.30 L645.34,549.80 L645.85,550.30 L646.40,550.80 L646.97,551.30 L647.55,551.80 L648.13,552.30 L648.70,552.80 L649.24,553.30 L649.77,553.80 L650.29,554.30 L650.81,554.80 L651.32,555.30 L651.83,555.80 L652.32,556.30 L652.79,556.80 L653.25,557.30 L653.70,557.80 L654.14,558.30 L654.58,558.80 L655.00,559.30 L655.41,559.80 L655.79,560.30 L656.15,560.80 L656.48,561.30 L656.78,561.80 L657.06,562.30 L657.32,562.80 L657.57,563.30 L657.82,563.80 L658.08,564.30 L658.34,564.80 L658.62,565.30 L658.92,565.80 L659.22,566.30 L659.53,566.80 L659.83,567.30 L660.12,567.80 L660.38,568.30 L660.61,568.80 L660.81,569.30 L660.99,569.80 L661.16,570.30 L661.32,570.80 L661.47,571.30 L661.60,571.80 L661.73,572.30 L661.85,572.80 L661.95,573.30 L662.04,573.80 L662.12,574.30 L662.20,574.80 L662.27,575.30 L662.36,575.80 L662.46,576.30 L662.58,576.80 L662.73,577.30 L662.91,577.80 L663.12,578.30 L663.34,578.80 L663.57,579.30 L663.80,579.80 L664.02,580.30 L664.24,580.80 L664.48,581.30 L664.75,581.80 L665.02,582.30 L665.27,582.80 L665.49,583.30 L665.66,583.80 L665.74,584.30 L665.75,584.80 L665.75,585.30 L665.75,585.80 L665.75,586.30 L665.75,586.80 L665.75,587.30 L665.75,587.80 L665.75,588.30 L665.69,588.80 L665.54,589.30 L665.31,589.80 L665.02,590.30 L664.70,590.80 L664.35,591.30 L664.01,591.80 L663.69,592.30 L663.35,592.80 L662.98,593.30 L662.59,593.80 L662.18,594.30 L661.76,594.80 L661.33,595.30 L660.90,595.80 L660.48,596.30 L660.05,596.80 L659.60,597.30 L659.15,597.80 L658.70,598.30 L658.24,598.80 L657.78,599.30 L657.33,599.80 L656.88,600.30 L656.43,600.80 L655.98,601.30 L655.53,601.80 L655.09,602.30 L654.64,602.80 L654.19,603.30 L653.74,603.80 L653.29,604.30 L652.84,604.80 L652.39,605.30 L651.94,605.80 L651.50,606.30 L651.05,606.80 L650.60,607.30 L650.15,607.80 L649.70,608.30 L649.24,608.80 L648.78,609.30 L648.33,609.80 L647.88,610.30 L647.43,610.80 L646.99,611.30 L646.57,611.80 L646.15,612.30 L645.74,612.80 L645.34,613.30 L644.94,613.80 L644.55,614.30 L644.16,614.80 L643.78,615.30 L643.40,615.80 L643.02,616.30 L642.65,616.80 L642.28,617.30 L641.92,617.80 L641.56,618.30 L641.22,618.80 L640.88,619.30 L640.55,619.80 L640.22,620.30 L639.90,620.80 L639.58,621.30 L639.27,621.80 L638.98,622.30 L638.72,622.80 L638.49,623.30 L638.29,623.80 L638.11,624.30 L637.94,624.80 L637.78,625.30 L637.63,625.80 L637.50,626.30 L637.37,626.80 L637.25,627.30 L637.14,627.80 L637.04,628.30 L636.94,628.80 L636.85,629.30 L636.77,629.80 L636.68,630.30 L636.60,630.80 L636.52,631.30 L636.43,631.80 L636.34,632.30 L636.26,632.80 L636.18,633.30 L636.10,633.80 L636.03,634.30 L635.97,634.80 L635.92,635.30 L635.87,635.80 L635.82,636.30 L635.77,636.80 L635.73,637.30 L635.70,637.80 L635.67,638.30 L635.66,638.80 L635.66,639.30 L635.66,639.80 L635.66,640.30 L635.66,640.80 L635.65,641.30 L635.65,641.80 L635.65,642.30 L635.65,642.80 L635.65,643.30 L635.65,643.80 L635.65,644.30 L635.65,644.80 L635.65,645.30 L635.65,645.80 L635.65,646.30 L635.65,646.80 L635.65,647.30 L635.65,647.80 L635.65,648.30 L635.65,648.80 L635.65,649.30 L635.65,649.80 L635.64,650.30 L635.64,650.80 L635.64,651.30 L635.64,651.80 L635.64,652.30 L635.64,652.80 L635.64,653.30 L635.64,653.80 L635.64,654.30 L635.64,654.80 L635.63,655.30 L635.63,655.80 L635.63,656.30 L635.63,656.80 L635.63,657.30 L635.63,657.80 L635.63,658.30 L635.63,658.80 L635.62,659.30 L635.62,659.80 L635.62,660.30 L635.62,660.80 L635.62,661.30 L635.62,661.80 L635.62,662.30 L635.61,662.80 L635.61,663.30 L635.61,663.80 L635.61,664.30 L635.61,664.80 L635.61,665.30 L635.61,665.80 L635.60,666.30 L635.60,666.80 L635.60,667.30 L635.60,667.60 L635.60,667.30 L635.60,666.80 L635.60,666.30 L635.59,665.80 L635.59,665.30 L635.59,664.80 L635.59,664.30 L635.59,663.80 L635.59,663.30 L635.59,662.80 L635.58,662.30 L635.58,661.80 L635.58,661.30 L635.58,660.80 L635.58,660.30 L635.58,659.80 L635.58,659.30 L635.57,658.80 L635.57,658.30 L635.57,657.80 L635.57,657.30 L635.57,656.80 L635.57,656.30 L635.57,655.80 L635.57,655.30 L635.56,654.80 L635.56,654.30 L635.56,653.80 L635.56,653.30 L635.56,652.80 L635.56,652.30 L635.56,651.80 L635.56,651.30 L635.56,650.80 L635.56,650.30 L635.55,649.80 L635.55,649.30 L635.55,648.80 L635.55,648.30 L635.55,647.80 L635.55,647.30 L635.55,646.80 L635.55,646.30 L635.55,645.80 L635.55,645.30 L635.55,644.80 L635.55,644.30 L635.55,643.80 L635.55,643.30 L635.55,642.80 L635.55,642.30 L635.55,641.80 L635.55,641.30 L635.54,640.80 L635.54,640.30 L635.54,639.80 L635.54,639.30 L635.54,638.80 L635.53,638.30 L635.50,637.80 L635.47,637.30 L635.43,636.80 L635.38,636.30 L635.33,635.80 L635.28,635.30 L635.23,634.80 L635.17,634.30 L635.10,633.80 L635.02,633.30 L634.94,632.80 L634.86,632.30 L634.77,631.80 L634.68,631.30 L634.60,630.80 L634.52,630.30 L634.43,629.80 L634.35,629.30 L634.26,628.80 L634.16,628.30 L634.06,627.80 L633.95,627.30 L633.83,626.80 L633.70,626.30 L633.57,625.80 L633.42,625.30 L633.26,624.80 L633.09,624.30 L632.91,623.80 L632.71,623.30 L632.48,622.80 L632.22,622.30 L631.93,621.80 L631.62,621.30 L631.30,620.80 L630.98,620.30 L630.65,619.80 L630.32,619.30 L629.98,618.80 L629.64,618.30 L629.28,617.80 L628.92,617.30 L628.55,616.80 L628.18,616.30 L627.80,615.80 L627.42,615.30 L627.04,614.80 L626.65,614.30 L626.26,613.80 L625.86,613.30 L625.46,612.80 L625.05,612.30 L624.63,611.80 L624.21,611.30 L623.77,610.80 L623.32,610.30 L622.87,609.80 L622.42,609.30 L621.96,608.80 L621.50,608.30 L621.05,607.80 L620.60,607.30 L620.15,606.80 L619.70,606.30 L619.26,605.80 L618.81,605.30 L618.36,604.80 L617.91,604.30 L617.46,603.80 L617.01,603.30 L616.56,602.80 L616.11,602.30 L615.67,601.80 L615.22,601.30 L614.77,600.80 L614.32,600.30 L613.87,599.80 L613.42,599.30 L612.96,598.80 L612.50,598.30 L612.05,597.80 L611.60,597.30 L611.15,596.80 L610.72,596.30 L610.30,595.80 L609.87,595.30 L609.44,594.80 L609.02,594.30 L608.61,593.80 L608.22,593.30 L607.85,592.80 L607.51,592.30 L607.19,591.80 L606.85,591.30 L606.50,590.80 L606.18,590.30 L605.89,589.80 L605.66,589.30 L605.51,588.80 L605.45,588.30 L605.45,587.80 L605.45,587.30 L605.45,586.80 L605.45,586.30 L605.45,585.80 L605.45,585.30 L605.45,584.80 L605.46,584.30 L605.54,583.80 L605.71,583.30 L605.93,582.80 L606.18,582.30 L606.45,581.80 L606.72,581.30 L606.96,580.80 L607.18,580.30 L607.40,579.80 L607.63,579.30 L607.86,578.80 L608.08,578.30 L608.29,577.80 L608.47,577.30 L608.62,576.80 L608.74,576.30 L608.84,575.80 L608.93,575.30 L609.00,574.80 L609.08,574.30 L609.16,573.80 L609.25,573.30 L609.35,572.80 L609.47,572.30 L609.60,571.80 L609.73,571.30 L609.88,570.80 L610.04,570.30 L610.21,569.80 L610.39,569.30 L610.59,568.80 L610.82,568.30 L611.08,567.80 L611.37,567.30 L611.67,566.80 L611.98,566.30 L612.28,565.80 L612.58,565.30 L612.86,564.80 L613.12,564.30 L613.38,563.80 L613.63,563.30 L613.88,562.80 L614.14,562.30 L614.42,561.80 L614.72,561.30 L615.05,560.80 L615.41,560.30 L615.79,559.80 L616.20,559.30 L616.62,558.80 L617.06,558.30 L617.50,557.80 L617.95,557.30 L618.41,556.80 L618.88,556.30 L619.37,555.80 L619.88,555.30 L620.39,554.80 L620.91,554.30 L621.43,553.80 L621.96,553.30 L622.50,552.80 L623.07,552.30 L623.65,551.80 L624.23,551.30 L624.80,550.80 L625.35,550.30 L625.86,549.80 L626.33,549.30 L626.78,548.80 L627.22,548.30 L627.63,547.80 L628.04,547.30 L628.42,546.80 L628.78,546.30 L629.12,545.80 L629.44,545.30 L629.74,544.80 L630.04,544.30 L630.31,543.80 L630.58,543.30 L630.83,542.80 L631.07,542.30 L631.30,541.80 L631.53,541.30 L631.74,540.80 L631.94,540.30 L632.14,539.80 L632.33,539.30 L632.51,538.80 L632.68,538.30 L632.85,537.80 L633.01,537.30 L633.18,536.80 L633.34,536.30 L633.49,535.80 L633.63,535.30 L633.76,534.80 L633.87,534.30 L633.97,533.80 L634.05,533.30 L634.12,532.80 L634.18,532.30 L634.24,531.80 L634.30,531.30 L634.35,530.80 L634.41,530.30 L634.48,529.80 L634.54,529.30 L634.61,528.80 L634.68,528.30 L634.75,527.80 L634.81,527.30 L634.87,526.80 L634.93,526.30 L634.98,525.80 L635.03,525.30 L635.08,524.80 L635.13,524.30 L635.18,523.80 L635.23,523.30 L635.28,522.80 L635.33,522.30 L635.37,521.80 L635.41,521.30 L635.45,520.80 L635.48,520.30 L635.50,519.80 L635.52,519.30 L635.53,518.80 L635.54,518.30 L635.54,517.80 L635.54,517.30 L635.54,516.80 L635.55,516.30 L635.55,515.80 L635.55,515.30 L635.55,514.80 L635.55,514.30 L635.55,513.80 L635.55,513.30 L635.55,512.80 L635.55,512.30 L635.55,511.80 L635.55,511.30 L635.55,510.80 L635.55,510.30 L635.56,509.80 L635.56,509.30 L635.56,508.80 L635.56,508.30 L635.56,507.80 L635.56,507.30 L635.57,506.80 L635.57,506.30 L635.57,505.80 L635.57,505.30 L635.58,504.80 L635.58,504.30 L635.58,503.80 L635.58,503.30 L635.59,502.80 L635.59,502.30 L635.59,501.80 L635.60,501.30 L635.60,500.80 Z" fill="#ed736a" stroke="#262626" stroke-width="1.0" stroke-linejoin="round"/>
<path d="M479.90,521.50 H484.50 M482.20,521.50 V600.50 M479.90,600.50 H484.50" fill="none" stroke="rgba(255,255,255,0.88)" stroke-width="1.35"/>
<circle cx="482.2" cy="562.30" r="2.8" fill="#ffffff"/>
<path d="M556.40,529.50 H561.00 M558.70,529.50 V607.30 M556.40,607.30 H561.00" fill="none" stroke="rgba(255,255,255,0.88)" stroke-width="1.35"/>
<circle cx="558.7" cy="570.50" r="2.8" fill="#ffffff"/>
<path d="M633.30,541.50 H637.90 M635.60,541.50 V621.20 M633.30,621.20 H637.90" fill="none" stroke="rgba(255,255,255,0.88)" stroke-width="1.35"/>
<circle cx="635.6" cy="582.90" r="2.8" fill="#ffffff"/>
<line x1="436.6" y1="501.4" x2="436.6" y2="711.7" stroke="#333333" stroke-width="1.1"/>
<line x1="436.05" y1="711.7" x2="681.3" y2="711.7" stroke="#333333" stroke-width="1.1"/>
<line x1="434.1" y1="534.40" x2="436.6" y2="534.40" stroke="#333333" stroke-width="1.1"/>
<text x="432.30" y="539.30" font-size="10.4" text-anchor="end" font-weight="normal" fill="#4d4d4d" >0.82</text>
<line x1="434.1" y1="582.50" x2="436.6" y2="582.50" stroke="#333333" stroke-width="1.1"/>
<text x="432.30" y="587.40" font-size="10.4" text-anchor="end" font-weight="normal" fill="#4d4d4d" >0.80</text>
<line x1="434.1" y1="630.60" x2="436.6" y2="630.60" stroke="#333333" stroke-width="1.1"/>
<text x="432.30" y="635.50" font-size="10.4" text-anchor="end" font-weight="normal" fill="#4d4d4d" >0.78</text>
<line x1="434.1" y1="678.70" x2="436.6" y2="678.70" stroke="#333333" stroke-width="1.1"/>
<text x="432.30" y="683.60" font-size="10.4" text-anchor="end" font-weight="normal" fill="#4d4d4d" >0.76</text>
<text x="559.00" y="723.40" font-size="10.5" text-anchor="middle" font-weight="normal" fill="#000000" >Model</text>
<text x="0.00" y="0.00" font-size="10.5" text-anchor="middle" font-weight="normal" fill="#000000" transform="translate(405.1,606.55) rotate(-90)">AUROC on Test Set</text>
<path d="M482.20,784.00 L482.20,784.50 L482.20,785.00 L482.20,785.50 L482.20,786.00 L482.21,786.50 L482.21,787.00 L482.21,787.50 L482.21,788.00 L482.22,788.50 L482.22,789.00 L482.23,789.50 L482.23,790.00 L482.24,790.50 L482.24,791.00 L482.25,791.50 L482.25,792.00 L482.26,792.50 L482.27,793.00 L482.29,793.50 L482.31,794.00 L482.33,794.50 L482.36,795.00 L482.39,795.50 L482.42,796.00 L482.45,796.50 L482.48,797.00 L482.50,797.50 L482.53,798.00 L482.56,798.50 L482.59,799.00 L482.61,799.50 L482.64,800.00 L482.66,800.50 L482.69,801.00 L482.72,801.50 L482.75,802.00 L482.78,802.50 L482.81,803.00 L482.85,803.50 L482.89,804.00 L482.94,804.50 L483.00,805.00 L483.07,805.50 L483.17,806.00 L483.27,806.50 L483.38,807.00 L483.50,807.50 L483.62,808.00 L483.75,808.50 L483.90,809.00 L484.06,809.50 L484.25,810.00 L484.47,810.50 L484.73,811.00 L485.02,811.50 L485.34,812.00 L485.67,812.50 L486.02,813.00 L486.37,813.50 L486.72,814.00 L487.08,814.50 L487.46,815.00 L487.85,815.50 L488.25,816.00 L488.66,816.50 L489.08,817.00 L489.50,817.50 L489.92,818.00 L490.35,818.50 L490.80,819.00 L491.25,819.50 L491.70,820.00 L492.16,820.50 L492.62,821.00 L493.07,821.50 L493.52,822.00 L493.96,822.50 L494.39,823.00 L494.82,823.50 L495.26,824.00 L495.71,824.50 L496.17,825.00 L496.65,825.50 L497.15,826.00 L497.68,826.50 L498.22,827.00 L498.77,827.50 L499.33,828.00 L499.91,828.50 L500.48,829.00 L501.05,829.50 L501.63,830.00 L502.22,830.50 L502.81,831.00 L503.41,831.50 L504.01,832.00 L504.60,832.50 L505.19,833.00 L505.76,833.50 L506.35,834.00 L506.95,834.50 L507.55,835.00 L508.14,835.50 L508.70,836.00 L509.22,836.50 L509.70,837.00 L510.11,837.50 L510.52,838.00 L510.92,838.50 L511.31,839.00 L511.66,839.50 L511.95,840.00 L512.18,840.50 L512.33,841.00 L512.41,841.50 L512.48,842.00 L512.53,842.50 L512.55,843.00 L512.52,843.50 L512.43,844.00 L512.30,844.50 L512.15,845.00 L511.92,845.50 L511.58,846.00 L511.16,846.50 L510.69,847.00 L510.22,847.50 L509.77,848.00 L509.32,848.50 L508.85,849.00 L508.37,849.50 L507.87,850.00 L507.35,850.50 L506.82,851.00 L506.27,851.50 L505.71,852.00 L505.12,852.50 L504.51,853.00 L503.87,853.50 L503.22,854.00 L502.56,854.50 L501.88,855.00 L501.19,855.50 L500.48,856.00 L499.75,856.50 L498.99,857.00 L498.22,857.50 L497.44,858.00 L496.66,858.50 L495.90,859.00 L495.15,859.50 L494.40,860.00 L493.63,860.50 L492.85,861.00 L492.09,861.50 L491.36,862.00 L490.68,862.50 L490.07,863.00 L489.55,863.50 L489.07,864.00 L488.61,864.50 L488.19,865.00 L487.79,865.50 L487.42,866.00 L487.08,866.50 L486.77,867.00 L486.48,867.50 L486.21,868.00 L485.96,868.50 L485.72,869.00 L485.50,869.50 L485.29,870.00 L485.09,870.50 L484.89,871.00 L484.69,871.50 L484.50,872.00 L484.31,872.50 L484.13,873.00 L483.96,873.50 L483.81,874.00 L483.67,874.50 L483.55,875.00 L483.45,875.50 L483.36,876.00 L483.28,876.50 L483.20,877.00 L483.13,877.50 L483.06,878.00 L483.00,878.50 L482.94,879.00 L482.88,879.50 L482.82,880.00 L482.77,880.50 L482.72,881.00 L482.67,881.50 L482.63,882.00 L482.58,882.50 L482.53,883.00 L482.47,883.50 L482.41,884.00 L482.36,884.50 L482.31,885.00 L482.27,885.50 L482.25,886.00 L482.24,886.50 L482.24,887.00 L482.23,887.50 L482.23,888.00 L482.22,888.50 L482.22,889.00 L482.21,889.50 L482.21,890.00 L482.21,890.50 L482.20,891.00 L482.20,891.50 L482.20,892.00 L482.20,892.50 L482.20,892.90 L482.20,892.50 L482.20,892.00 L482.20,891.50 L482.20,891.00 L482.19,890.50 L482.19,890.00 L482.19,889.50 L482.18,889.00 L482.18,888.50 L482.17,888.00 L482.17,887.50 L482.16,887.00 L482.16,886.50 L482.15,886.00 L482.13,885.50 L482.09,885.00 L482.04,884.50 L481.99,884.00 L481.93,883.50 L481.87,883.00 L481.82,882.50 L481.77,882.00 L481.73,881.50 L481.68,881.00 L481.63,880.50 L481.58,880.00 L481.52,879.50 L481.46,879.00 L481.40,878.50 L481.34,878.00 L481.27,877.50 L481.20,877.00 L481.12,876.50 L481.04,876.00 L480.95,875.50 L480.85,875.00 L480.73,874.50 L480.59,874.00 L480.44,873.50 L480.27,873.00 L480.09,872.50 L479.90,872.00 L479.71,871.50 L479.51,871.00 L479.31,870.50 L479.11,870.00 L478.90,869.50 L478.68,869.00 L478.44,868.50 L478.19,868.00 L477.92,867.50 L477.63,867.00 L477.32,866.50 L476.98,866.00 L476.61,865.50 L476.21,865.00 L475.79,864.50 L475.33,864.00 L474.85,863.50 L474.33,863.00 L473.72,862.50 L473.04,862.00 L472.31,861.50 L471.55,861.00 L470.77,860.50 L470.00,860.00 L469.25,859.50 L468.50,859.00 L467.74,858.50 L466.96,858.00 L466.18,857.50 L465.41,857.00 L464.65,856.50 L463.92,856.00 L463.21,855.50 L462.52,855.00 L461.84,854.50 L461.18,854.00 L460.53,853.50 L459.89,853.00 L459.28,852.50 L458.69,852.00 L458.13,851.50 L457.58,851.00 L457.05,850.50 L456.53,850.00 L456.03,849.50 L455.55,849.00 L455.08,848.50 L454.63,848.00 L454.18,847.50 L453.71,847.00 L453.24,846.50 L452.82,846.00 L452.48,845.50 L452.25,845.00 L452.10,844.50 L451.97,844.00 L451.88,843.50 L451.85,843.00 L451.87,842.50 L451.92,842.00 L451.99,841.50 L452.07,841.00 L452.22,840.50 L452.45,840.00 L452.74,839.50 L453.09,839.00 L453.48,838.50 L453.88,838.00 L454.29,837.50 L454.70,837.00 L455.18,836.50 L455.70,836.00 L456.26,835.50 L456.85,835.00 L457.45,834.50 L458.05,834.00 L458.64,833.50 L459.21,833.00 L459.80,832.50 L460.39,832.00 L460.99,831.50 L461.59,831.00 L462.18,830.50 L462.77,830.00 L463.35,829.50 L463.92,829.00 L464.49,828.50 L465.07,828.00 L465.63,827.50 L466.18,827.00 L466.72,826.50 L467.25,826.00 L467.75,825.50 L468.23,825.00 L468.69,824.50 L469.14,824.00 L469.58,823.50 L470.01,823.00 L470.44,822.50 L470.88,822.00 L471.33,821.50 L471.78,821.00 L472.24,820.50 L472.70,820.00 L473.15,819.50 L473.60,819.00 L474.05,818.50 L474.48,818.00 L474.90,817.50 L475.32,817.00 L475.74,816.50 L476.15,816.00 L476.55,815.50 L476.94,815.00 L477.32,814.50 L477.68,814.00 L478.03,813.50 L478.38,813.00 L478.73,812.50 L479.06,812.00 L479.38,811.50 L479.67,811.00 L479.93,810.50 L480.15,810.00 L480.34,809.50 L480.50,809.00 L480.65,808.50 L480.78,808.00 L480.90,807.50 L481.02,807.00 L481.13,806.50 L481.23,806.00 L481.33,805.50 L481.40,805.00 L481.46,804.50 L481.51,804.00 L481.55,803.50 L481.59,803.00 L481.62,802.50 L481.65,802.00 L481.68,801.50 L481.71,801.00 L481.74,800.50 L481.76,800.00 L481.79,799.50 L481.81,799.00 L481.84,798.50 L481.87,798.00 L481.90,797.50 L481.92,797.00 L481.95,796.50 L481.98,796.00 L482.01,795.50 L482.04,795.00 L482.07,794.50 L482.09,794.00 L482.11,793.50 L482.13,793.00 L482.14,792.50 L482.15,792.00 L482.15,791.50 L482.16,791.00 L482.16,790.50 L482.17,790.00 L482.17,789.50 L482.18,789.00 L482.18,788.50 L482.19,788.00 L482.19,787.50 L482.19,787.00 L482.19,786.50 L482.20,786.00 L482.20,785.50 L482.20,785.00 L482.20,784.50 L482.20,784.00 Z" fill="#2c6c8a" stroke="#262626" stroke-width="1.0" stroke-linejoin="round"/>
<path d="M558.70,812.40 L558.70,812.90 L558.70,813.40 L558.70,813.90 L558.71,814.40 L558.71,814.90 L558.72,815.40 L558.72,815.90 L558.73,816.40 L558.74,816.90 L558.74,817.40 L558.75,817.90 L558.76,818.40 L558.77,818.90 L558.79,819.40 L558.81,819.90 L558.84,820.40 L558.86,820.90 L558.89,821.40 L558.92,821.90 L558.94,822.40 L558.97,822.90 L559.00,823.40 L559.02,823.90 L559.05,824.40 L559.07,824.90 L559.08,825.40 L559.10,825.90 L559.12,826.40 L559.13,826.90 L559.15,827.40 L559.16,827.90 L559.18,828.40 L559.19,828.90 L559.21,829.40 L559.23,829.90 L559.25,830.40 L559.27,830.90 L559.30,831.40 L559.33,831.90 L559.37,832.40 L559.42,832.90 L559.49,833.40 L559.57,833.90 L559.67,834.40 L559.77,834.90 L559.88,835.40 L560.00,835.90 L560.13,836.40 L560.27,836.90 L560.42,837.40 L560.59,837.90 L560.78,838.40 L560.98,838.90 L561.19,839.40 L561.41,839.90 L561.64,840.40 L561.90,840.90 L562.18,841.40 L562.48,841.90 L562.79,842.40 L563.11,842.90 L563.43,843.40 L563.75,843.90 L564.07,844.40 L564.39,844.90 L564.71,845.40 L565.05,845.90 L565.39,846.40 L565.75,846.90 L566.13,847.40 L566.53,847.90 L566.96,848.40 L567.43,848.90 L567.91,849.40 L568.42,849.90 L568.94,850.40 L569.48,850.90 L570.02,851.40 L570.57,851.90 L571.14,852.40 L571.72,852.90 L572.32,853.40 L572.93,853.90 L573.55,854.40 L574.18,854.90 L574.80,855.40 L575.42,855.90 L576.05,856.40 L576.69,856.90 L577.33,857.40 L577.98,857.90 L578.62,858.40 L579.27,858.90 L579.92,859.40 L580.58,859.90 L581.26,860.40 L581.95,860.90 L582.64,861.40 L583.32,861.90 L583.97,862.40 L584.59,862.90 L585.15,863.40 L585.70,863.90 L586.26,864.40 L586.81,864.90 L587.33,865.40 L587.81,865.90 L588.20,866.40 L588.50,866.90 L588.68,867.40 L588.81,867.90 L588.92,868.40 L589.00,868.90 L589.05,869.40 L589.03,869.90 L588.94,870.40 L588.78,870.90 L588.58,871.40 L588.35,871.90 L588.11,872.40 L587.88,872.90 L587.68,873.40 L587.52,873.90 L587.38,874.40 L587.24,874.90 L587.11,875.40 L586.97,875.90 L586.83,876.40 L586.68,876.90 L586.50,877.40 L586.31,877.90 L586.09,878.40 L585.85,878.90 L585.59,879.40 L585.29,879.90 L584.97,880.40 L584.61,880.90 L584.21,881.40 L583.76,881.90 L583.19,882.40 L582.49,882.90 L581.70,883.40 L580.84,883.90 L579.94,884.40 L579.02,884.90 L578.11,885.40 L577.19,885.90 L576.18,886.40 L575.10,886.90 L573.98,887.40 L572.88,887.90 L571.83,888.40 L570.89,888.90 L570.09,889.40 L569.42,889.90 L568.81,890.40 L568.24,890.90 L567.71,891.40 L567.23,891.90 L566.78,892.40 L566.36,892.90 L565.98,893.40 L565.62,893.90 L565.30,894.40 L565.00,894.90 L564.72,895.40 L564.45,895.90 L564.18,896.40 L563.91,896.90 L563.64,897.40 L563.37,897.90 L563.10,898.40 L562.83,898.90 L562.57,899.40 L562.31,899.90 L562.07,900.40 L561.84,900.90 L561.62,901.40 L561.40,901.90 L561.18,902.40 L560.98,902.90 L560.78,903.40 L560.59,903.90 L560.43,904.40 L560.28,904.90 L560.15,905.40 L560.02,905.90 L559.90,906.40 L559.80,906.90 L559.70,907.40 L559.61,907.90 L559.52,908.40 L559.45,908.90 L559.38,909.40 L559.32,909.90 L559.27,910.40 L559.22,910.90 L559.17,911.40 L559.13,911.90 L559.08,912.40 L559.04,912.90 L559.00,913.40 L558.95,913.90 L558.91,914.40 L558.86,914.90 L558.83,915.40 L558.79,915.90 L558.77,916.40 L558.75,916.90 L558.75,917.40 L558.74,917.90 L558.74,918.40 L558.73,918.90 L558.73,919.40 L558.72,919.90 L558.72,920.40 L558.72,920.90 L558.71,921.40 L558.71,921.90 L558.71,922.40 L558.71,922.90 L558.70,923.40 L558.70,923.90 L558.70,924.40 L558.70,924.90 L558.70,925.40 L558.70,925.60 L558.70,925.40 L558.70,924.90 L558.70,924.40 L558.70,923.90 L558.70,923.40 L558.69,922.90 L558.69,922.40 L558.69,921.90 L558.69,921.40 L558.68,920.90 L558.68,920.40 L558.68,919.90 L558.67,919.40 L558.67,918.90 L558.66,918.40 L558.66,917.90 L558.65,917.40 L558.65,916.90 L558.63,916.40 L558.61,915.90 L558.57,915.40 L558.54,914.90 L558.49,914.40 L558.45,913.90 L558.40,913.40 L558.36,912.90 L558.32,912.40 L558.27,911.90 L558.23,911.40 L558.18,910.90 L558.13,910.40 L558.08,909.90 L558.02,909.40 L557.95,908.90 L557.88,908.40 L557.79,907.90 L557.70,907.40 L557.60,906.90 L557.50,906.40 L557.38,905.90 L557.25,905.40 L557.12,904.90 L556.97,904.40 L556.81,903.90 L556.62,903.40 L556.42,902.90 L556.22,902.40 L556.00,901.90 L555.78,901.40 L555.56,900.90 L555.33,900.40 L555.09,899.90 L554.83,899.40 L554.57,898.90 L554.30,898.40 L554.03,897.90 L553.76,897.40 L553.49,896.90 L553.22,896.40 L552.95,895.90 L552.68,895.40 L552.40,894.90 L552.10,894.40 L551.78,893.90 L551.42,893.40 L551.04,892.90 L550.62,892.40 L550.17,891.90 L549.69,891.40 L549.16,890.90 L548.59,890.40 L547.98,889.90 L547.31,889.40 L546.51,888.90 L545.57,888.40 L544.52,887.90 L543.42,887.40 L542.30,886.90 L541.22,886.40 L540.21,885.90 L539.29,885.40 L538.38,884.90 L537.46,884.40 L536.56,883.90 L535.70,883.40 L534.91,882.90 L534.21,882.40 L533.64,881.90 L533.19,881.40 L532.79,880.90 L532.43,880.40 L532.11,879.90 L531.81,879.40 L531.55,878.90 L531.31,878.40 L531.09,877.90 L530.90,877.40 L530.72,876.90 L530.57,876.40 L530.43,875.90 L530.29,875.40 L530.16,874.90 L530.02,874.40 L529.88,873.90 L529.72,873.40 L529.52,872.90 L529.29,872.40 L529.05,871.90 L528.82,871.40 L528.62,870.90 L528.46,870.40 L528.37,869.90 L528.35,869.40 L528.40,868.90 L528.48,868.40 L528.59,867.90 L528.72,867.40 L528.90,866.90 L529.20,866.40 L529.59,865.90 L530.07,865.40 L530.59,864.90 L531.14,864.40 L531.70,863.90 L532.25,863.40 L532.81,862.90 L533.43,862.40 L534.08,861.90 L534.76,861.40 L535.45,860.90 L536.14,860.40 L536.82,859.90 L537.48,859.40 L538.13,858.90 L538.78,858.40 L539.42,857.90 L540.07,857.40 L540.71,856.90 L541.35,856.40 L541.98,855.90 L542.60,855.40 L543.22,854.90 L543.85,854.40 L544.47,853.90 L545.08,853.40 L545.68,852.90 L546.26,852.40 L546.83,851.90 L547.38,851.40 L547.92,850.90 L548.46,850.40 L548.98,849.90 L549.49,849.40 L549.97,848.90 L550.44,848.40 L550.87,847.90 L551.27,847.40 L551.65,846.90 L552.01,846.40 L552.35,845.90 L552.69,845.40 L553.01,844.90 L553.33,844.40 L553.65,843.90 L553.97,843.40 L554.29,842.90 L554.61,842.40 L554.92,841.90 L555.22,841.40 L555.50,840.90 L555.76,840.40 L555.99,839.90 L556.21,839.40 L556.42,838.90 L556.62,838.40 L556.81,837.90 L556.98,837.40 L557.13,836.90 L557.27,836.40 L557.40,835.90 L557.52,835.40 L557.63,834.90 L557.73,834.40 L557.83,833.90 L557.91,833.40 L557.98,832.90 L558.03,832.40 L558.07,831.90 L558.10,831.40 L558.13,830.90 L558.15,830.40 L558.17,829.90 L558.19,829.40 L558.21,828.90 L558.22,828.40 L558.24,827.90 L558.25,827.40 L558.27,826.90 L558.28,826.40 L558.30,825.90 L558.32,825.40 L558.33,824.90 L558.35,824.40 L558.38,823.90 L558.40,823.40 L558.43,822.90 L558.46,822.40 L558.48,821.90 L558.51,821.40 L558.54,820.90 L558.56,820.40 L558.59,819.90 L558.61,819.40 L558.63,818.90 L558.64,818.40 L558.65,817.90 L558.66,817.40 L558.66,816.90 L558.67,816.40 L558.68,815.90 L558.68,815.40 L558.69,814.90 L558.69,814.40 L558.70,813.90 L558.70,813.40 L558.70,812.90 L558.70,812.40 Z" fill="#97b9c0" stroke="#262626" stroke-width="1.0" stroke-linejoin="round"/>
<path d="M635.60,797.80 L635.60,798.30 L635.61,798.80 L635.61,799.30 L635.61,799.80 L635.62,800.30 L635.62,800.80 L635.62,801.30 L635.63,801.80 L635.63,802.30 L635.63,802.80 L635.63,803.30 L635.64,803.80 L635.64,804.30 L635.64,804.80 L635.64,805.30 L635.64,805.80 L635.65,806.30 L635.65,806.80 L635.65,807.30 L635.65,807.80 L635.65,808.30 L635.65,808.80 L635.65,809.30 L635.65,809.80 L635.65,810.30 L635.65,810.80 L635.65,811.30 L635.65,811.80 L635.66,812.30 L635.66,812.80 L635.66,813.30 L635.68,813.80 L635.71,814.30 L635.77,814.80 L635.84,815.30 L635.92,815.80 L636.00,816.30 L636.09,816.80 L636.17,817.30 L636.25,817.80 L636.33,818.30 L636.42,818.80 L636.52,819.30 L636.62,819.80 L636.74,820.30 L636.87,820.80 L637.01,821.30 L637.19,821.80 L637.40,822.30 L637.64,822.80 L637.89,823.30 L638.17,823.80 L638.45,824.30 L638.74,824.80 L639.03,825.30 L639.34,825.80 L639.67,826.30 L640.01,826.80 L640.37,827.30 L640.73,827.80 L641.10,828.30 L641.48,828.80 L641.85,829.30 L642.22,829.80 L642.60,830.30 L642.99,830.80 L643.39,831.30 L643.79,831.80 L644.21,832.30 L644.65,832.80 L645.10,833.30 L645.58,833.80 L646.07,834.30 L646.57,834.80 L647.09,835.30 L647.61,835.80 L648.13,836.30 L648.66,836.80 L649.19,837.30 L649.73,837.80 L650.28,838.30 L650.84,838.80 L651.40,839.30 L651.96,839.80 L652.52,840.30 L653.07,840.80 L653.62,841.30 L654.16,841.80 L654.70,842.30 L655.25,842.80 L655.80,843.30 L656.36,843.80 L656.92,844.30 L657.50,844.80 L658.11,845.30 L658.74,845.80 L659.37,846.30 L660.00,846.80 L660.61,847.30 L661.20,847.80 L661.75,848.30 L662.27,848.80 L662.82,849.30 L663.36,849.80 L663.89,850.30 L664.37,850.80 L664.79,851.30 L665.12,851.80 L665.35,852.30 L665.51,852.80 L665.66,853.30 L665.77,853.80 L665.84,854.30 L665.85,854.80 L665.80,855.30 L665.71,855.80 L665.59,856.30 L665.43,856.80 L665.25,857.30 L665.05,857.80 L664.84,858.30 L664.60,858.80 L664.25,859.30 L663.82,859.80 L663.31,860.30 L662.74,860.80 L662.14,861.30 L661.52,861.80 L660.91,862.30 L660.31,862.80 L659.68,863.30 L659.01,863.80 L658.31,864.30 L657.60,864.80 L656.87,865.30 L656.14,865.80 L655.42,866.30 L654.71,866.80 L654.00,867.30 L653.29,867.80 L652.58,868.30 L651.87,868.80 L651.16,869.30 L650.45,869.80 L649.76,870.30 L649.08,870.80 L648.39,871.30 L647.71,871.80 L647.03,872.30 L646.36,872.80 L645.71,873.30 L645.08,873.80 L644.48,874.30 L643.91,874.80 L643.36,875.30 L642.83,875.80 L642.31,876.30 L641.81,876.80 L641.34,877.30 L640.88,877.80 L640.45,878.30 L640.03,878.80 L639.61,879.30 L639.19,879.80 L638.80,880.30 L638.44,880.80 L638.11,881.30 L637.83,881.80 L637.61,882.30 L637.42,882.80 L637.25,883.30 L637.10,883.80 L636.96,884.30 L636.83,884.80 L636.72,885.30 L636.61,885.80 L636.51,886.30 L636.41,886.80 L636.32,887.30 L636.23,887.80 L636.15,888.30 L636.08,888.80 L636.02,889.30 L635.97,889.80 L635.93,890.30 L635.89,890.80 L635.85,891.30 L635.82,891.80 L635.79,892.30 L635.76,892.80 L635.73,893.30 L635.71,893.80 L635.69,894.30 L635.67,894.80 L635.66,895.30 L635.65,895.80 L635.65,896.30 L635.65,896.80 L635.64,897.30 L635.64,897.80 L635.64,898.30 L635.63,898.80 L635.63,899.30 L635.63,899.80 L635.63,900.30 L635.62,900.80 L635.62,901.30 L635.62,901.80 L635.62,902.30 L635.61,902.80 L635.61,903.30 L635.61,903.80 L635.61,904.30 L635.61,904.80 L635.61,905.30 L635.61,905.80 L635.60,906.30 L635.60,906.80 L635.60,907.30 L635.60,907.80 L635.60,908.30 L635.60,908.80 L635.60,909.30 L635.60,909.80 L635.60,910.30 L635.60,910.60 L635.60,910.30 L635.60,909.80 L635.60,909.30 L635.60,908.80 L635.60,908.30 L635.60,907.80 L635.60,907.30 L635.60,906.80 L635.60,906.30 L635.59,905.80 L635.59,905.30 L635.59,904.80 L635.59,904.30 L635.59,903.80 L635.59,903.30 L635.59,902.80 L635.58,902.30 L635.58,901.80 L635.58,901.30 L635.58,900.80 L635.57,900.30 L635.57,899.80 L635.57,899.30 L635.57,898.80 L635.56,898.30 L635.56,897.80 L635.56,897.30 L635.55,896.80 L635.55,896.30 L635.55,895.80 L635.54,895.30 L635.53,894.80 L635.51,894.30 L635.49,893.80 L635.47,893.30 L635.44,892.80 L635.41,892.30 L635.38,891.80 L635.35,891.30 L635.31,890.80 L635.27,890.30 L635.23,889.80 L635.18,889.30 L635.12,888.80 L635.05,888.30 L634.97,887.80 L634.88,887.30 L634.79,886.80 L634.69,886.30 L634.59,885.80 L634.48,885.30 L634.37,884.80 L634.24,884.30 L634.10,883.80 L633.95,883.30 L633.78,882.80 L633.59,882.30 L633.37,881.80 L633.09,881.30 L632.76,880.80 L632.40,880.30 L632.01,879.80 L631.59,879.30 L631.17,878.80 L630.75,878.30 L630.32,877.80 L629.86,877.30 L629.39,876.80 L628.89,876.30 L628.37,875.80 L627.84,875.30 L627.29,874.80 L626.72,874.30 L626.12,873.80 L625.49,873.30 L624.84,872.80 L624.17,872.30 L623.49,871.80 L622.81,871.30 L622.12,870.80 L621.44,870.30 L620.75,869.80 L620.04,869.30 L619.33,868.80 L618.62,868.30 L617.91,867.80 L617.20,867.30 L616.49,866.80 L615.78,866.30 L615.06,865.80 L614.33,865.30 L613.60,864.80 L612.89,864.30 L612.19,863.80 L611.52,863.30 L610.89,862.80 L610.29,862.30 L609.68,861.80 L609.06,861.30 L608.46,860.80 L607.89,860.30 L607.38,859.80 L606.95,859.30 L606.60,858.80 L606.36,858.30 L606.15,857.80 L605.95,857.30 L605.77,856.80 L605.61,856.30 L605.49,855.80 L605.40,855.30 L605.35,854.80 L605.36,854.30 L605.43,853.80 L605.54,853.30 L605.69,852.80 L605.85,852.30 L606.08,851.80 L606.41,851.30 L606.83,850.80 L607.31,850.30 L607.84,849.80 L608.38,849.30 L608.93,848.80 L609.45,848.30 L610.00,847.80 L610.59,847.30 L611.20,846.80 L611.83,846.30 L612.46,845.80 L613.09,845.30 L613.70,844.80 L614.28,844.30 L614.84,843.80 L615.40,843.30 L615.95,842.80 L616.50,842.30 L617.04,841.80 L617.58,841.30 L618.13,840.80 L618.68,840.30 L619.24,839.80 L619.80,839.30 L620.36,838.80 L620.92,838.30 L621.47,837.80 L622.01,837.30 L622.54,836.80 L623.07,836.30 L623.59,835.80 L624.11,835.30 L624.63,834.80 L625.13,834.30 L625.62,833.80 L626.10,833.30 L626.55,832.80 L626.99,832.30 L627.41,831.80 L627.81,831.30 L628.21,830.80 L628.60,830.30 L628.98,829.80 L629.35,829.30 L629.72,828.80 L630.10,828.30 L630.47,827.80 L630.83,827.30 L631.19,826.80 L631.53,826.30 L631.86,825.80 L632.17,825.30 L632.46,824.80 L632.75,824.30 L633.03,823.80 L633.31,823.30 L633.56,822.80 L633.80,822.30 L634.01,821.80 L634.19,821.30 L634.33,820.80 L634.46,820.30 L634.58,819.80 L634.68,819.30 L634.78,818.80 L634.87,818.30 L634.95,817.80 L635.03,817.30 L635.11,816.80 L635.20,816.30 L635.28,815.80 L635.36,815.30 L635.43,814.80 L635.49,814.30 L635.52,813.80 L635.54,813.30 L635.54,812.80 L635.54,812.30 L635.55,811.80 L635.55,811.30 L635.55,810.80 L635.55,810.30 L635.55,809.80 L635.55,809.30 L635.55,808.80 L635.55,808.30 L635.55,807.80 L635.55,807.30 L635.55,806.80 L635.55,806.30 L635.56,805.80 L635.56,805.30 L635.56,804.80 L635.56,804.30 L635.56,803.80 L635.57,803.30 L635.57,802.80 L635.57,802.30 L635.57,801.80 L635.58,801.30 L635.58,800.80 L635.58,800.30 L635.59,799.80 L635.59,799.30 L635.59,798.80 L635.60,798.30 L635.60,797.80 Z" fill="#ed736a" stroke="#262626" stroke-width="1.0" stroke-linejoin="round"/>
<path d="M479.90,815.90 H484.50 M482.20,815.90 V868.40 M479.90,868.40 H484.50" fill="none" stroke="rgba(255,255,255,0.88)" stroke-width="1.35"/>
<circle cx="482.2" cy="841.50" r="2.8" fill="#ffffff"/>
<path d="M556.40,844.70 H561.00 M558.70,844.70 V898.60 M556.40,898.60 H561.00" fill="none" stroke="rgba(255,255,255,0.88)" stroke-width="1.35"/>
<circle cx="558.7" cy="870.80" r="2.8" fill="#ffffff"/>
<path d="M633.30,828.90 H637.90 M635.60,828.90 V878.30 M633.30,878.30 H637.90" fill="none" stroke="rgba(255,255,255,0.88)" stroke-width="1.35"/>
<circle cx="635.6" cy="854.20" r="2.8" fill="#ffffff"/>
<line x1="436.6" y1="742.1" x2="436.6" y2="952.4" stroke="#333333" stroke-width="1.1"/>
<line x1="436.05" y1="952.4" x2="681.3" y2="952.4" stroke="#333333" stroke-width="1.1"/>
<line x1="434.1" y1="775.00" x2="436.6" y2="775.00" stroke="#333333" stroke-width="1.1"/>
<text x="432.30" y="779.90" font-size="10.4" text-anchor="end" font-weight="normal" fill="#4d4d4d" >0.82</text>
<line x1="434.1" y1="823.10" x2="436.6" y2="823.10" stroke="#333333" stroke-width="1.1"/>
<text x="432.30" y="828.00" font-size="10.4" text-anchor="end" font-weight="normal" fill="#4d4d4d" >0.80</text>
<line x1="434.1" y1="871.20" x2="436.6" y2="871.20" stroke="#333333" stroke-width="1.1"/>
<text x="432.30" y="876.10" font-size="10.4" text-anchor="end" font-weight="normal" fill="#4d4d4d" >0.78</text>
<line x1="434.1" y1="919.30" x2="436.6" y2="919.30" stroke="#333333" stroke-width="1.1"/>
<text x="432.30" y="924.20" font-size="10.4" text-anchor="end" font-weight="normal" fill="#4d4d4d" >0.76</text>
<text x="559.00" y="964.10" font-size="10.5" text-anchor="middle" font-weight="normal" fill="#000000" >Model</text>
<text x="0.00" y="0.00" font-size="10.5" text-anchor="middle" font-weight="normal" fill="#000000" transform="translate(405.1,847.25) rotate(-90)">AUROC on Test Set</text>
</svg>
</body></html>
